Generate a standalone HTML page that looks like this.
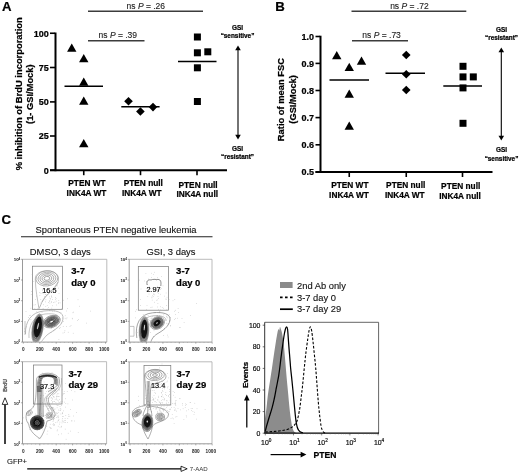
<!DOCTYPE html><html><head><meta charset="utf-8"><title>Figure</title>
<style>html,body{margin:0;padding:0;background:#fff}svg{display:block}text{font-family:"Liberation Sans",Arial,sans-serif}</style></head><body>
<svg width="520" height="474" viewBox="0 0 520 474">
<rect width="520" height="474" fill="#fff"/>
<text x="2" y="11" font-size="13.2" font-weight="bold" text-anchor="start" fill="#000"  stroke="#000" stroke-width="0.22">A</text>
<line x1="88" y1="11.25" x2="203" y2="11.25" stroke="#3c3c3c" stroke-width="1.5" />
<text x="145.8" y="9.3" font-size="8.5" font-weight="normal" text-anchor="middle" fill="#222"  stroke="#222" stroke-width="0.12">ns <tspan font-style="italic">P</tspan> = .26</text>
<line x1="88" y1="40.75" x2="144.5" y2="40.75" stroke="#3c3c3c" stroke-width="1.5" />
<text x="117.8" y="38.4" font-size="8.5" font-weight="normal" text-anchor="middle" fill="#222"  stroke="#222" stroke-width="0.12">ns <tspan font-style="italic">P</tspan> = .39</text>
<line x1="55.5" y1="32.5" x2="55.5" y2="171.2" stroke="#000" stroke-width="2" />
<line x1="50" y1="170.25" x2="227" y2="170.25" stroke="#000" stroke-width="2" />
<line x1="50" y1="33.25" x2="55" y2="33.25" stroke="#000" stroke-width="1.6" />
<text x="48.8" y="36.55" font-size="9" font-weight="bold" text-anchor="end" fill="#000"  stroke="#000" stroke-width="0.22">100</text>
<line x1="50" y1="67.5" x2="55" y2="67.5" stroke="#000" stroke-width="1.6" />
<text x="48.8" y="70.8" font-size="9" font-weight="bold" text-anchor="end" fill="#000"  stroke="#000" stroke-width="0.22">75</text>
<line x1="50" y1="101.9" x2="55" y2="101.9" stroke="#000" stroke-width="1.6" />
<text x="48.8" y="105.2" font-size="9" font-weight="bold" text-anchor="end" fill="#000"  stroke="#000" stroke-width="0.22">50</text>
<line x1="50" y1="136" x2="55" y2="136" stroke="#000" stroke-width="1.6" />
<text x="48.8" y="139.3" font-size="9" font-weight="bold" text-anchor="end" fill="#000"  stroke="#000" stroke-width="0.22">25</text>
<line x1="50" y1="170.25" x2="55" y2="170.25" stroke="#000" stroke-width="1.6" />
<text x="48.8" y="173.55" font-size="9" font-weight="bold" text-anchor="end" fill="#000"  stroke="#000" stroke-width="0.22">0</text>
<line x1="83.75" y1="170" x2="83.75" y2="175.2" stroke="#000" stroke-width="1.6" />
<line x1="140.5" y1="170" x2="140.5" y2="175.2" stroke="#000" stroke-width="1.6" />
<line x1="197" y1="170" x2="197" y2="175.2" stroke="#000" stroke-width="1.6" />
<text stroke="#000" stroke-width="0.22" transform="translate(22.4,93.8) rotate(-90)" font-size="9.4" font-weight="bold" text-anchor="middle" fill="#000">% inhibition of BrdU incorporation</text>
<text stroke="#000" stroke-width="0.22" transform="translate(33.2,94.2) rotate(-90)" font-size="9.3" font-weight="bold" text-anchor="middle" fill="#000">(1- GSI/Mock)</text>
<text x="87.0" y="186" font-size="8.3" font-weight="bold" text-anchor="middle" fill="#000"  stroke="#000" stroke-width="0.22">PTEN WT</text>
<text x="86.5" y="195.8" font-size="8.3" font-weight="bold" text-anchor="middle" fill="#000"  stroke="#000" stroke-width="0.22">INK4A WT</text>
<text x="143.3" y="186.1" font-size="8.3" font-weight="bold" text-anchor="middle" fill="#000"  stroke="#000" stroke-width="0.22">PTEN null</text>
<text x="141.8" y="195.8" font-size="8.3" font-weight="bold" text-anchor="middle" fill="#000"  stroke="#000" stroke-width="0.22">INK4A WT</text>
<text x="198.1" y="187.6" font-size="8.3" font-weight="bold" text-anchor="middle" fill="#000"  stroke="#000" stroke-width="0.22">PTEN null</text>
<text x="197.2" y="197.1" font-size="8.3" font-weight="bold" text-anchor="middle" fill="#000"  stroke="#000" stroke-width="0.22">INK4A null</text>
<polygon points="71.75,43.5 67.05,51.7 76.45,51.7" fill="#000"/>
<polygon points="83.75,54.0 79.05,62.2 88.45,62.2" fill="#000"/>
<polygon points="83.75,77.5 79.05,85.7 88.45,85.7" fill="#000"/>
<polygon points="83.75,96.5 79.05,104.7 88.45,104.7" fill="#000"/>
<polygon points="83.75,139.0 79.05,147.2 88.45,147.2" fill="#000"/>
<line x1="64.5" y1="86.25" x2="103" y2="86.25" stroke="#000" stroke-width="1.55" />
<polygon points="128.5,97.0 132.8,101.3 128.5,105.6 124.2,101.3" fill="#000"/>
<polygon points="140.4,107.2 144.70000000000002,111.5 140.4,115.8 136.1,111.5" fill="#000"/>
<polygon points="153,102.8 157.3,107.1 153,111.39999999999999 148.7,107.1" fill="#000"/>
<line x1="121.3" y1="106.8" x2="159.6" y2="106.8" stroke="#000" stroke-width="1.55" />
<rect x="193.9" y="33.5" width="7" height="7" fill="#000"/>
<rect x="193.9" y="49.3" width="7" height="7" fill="#000"/>
<rect x="204.3" y="48.3" width="7" height="7" fill="#000"/>
<rect x="193.9" y="64.3" width="7" height="7" fill="#000"/>
<rect x="193.9" y="98" width="7" height="7" fill="#000"/>
<line x1="178" y1="61.5" x2="216.5" y2="61.5" stroke="#000" stroke-width="1.55" />
<text x="237.5" y="30" font-size="6.4" font-weight="bold" text-anchor="middle" fill="#000"  stroke="#000" stroke-width="0.22">GSI</text>
<text x="237.5" y="38.3" font-size="6.4" font-weight="bold" text-anchor="middle" fill="#000"  stroke="#000" stroke-width="0.22">“sensitive”</text>
<line x1="238" y1="48" x2="238" y2="137" stroke="#000" stroke-width="1.1" />
<polygon points="238,45.5 235.2,50.2 240.8,50.2" fill="#000"/>
<polygon points="238,139.5 235.2,134.8 240.8,134.8" fill="#000"/>
<text x="237.5" y="150.6" font-size="6.4" font-weight="bold" text-anchor="middle" fill="#000"  stroke="#000" stroke-width="0.22">GSI</text>
<text x="237.5" y="159" font-size="6.4" font-weight="bold" text-anchor="middle" fill="#000"  stroke="#000" stroke-width="0.22">“resistant”</text>
<text x="275.3" y="11" font-size="13.2" font-weight="bold" text-anchor="start" fill="#000"  stroke="#000" stroke-width="0.22">B</text>
<line x1="351.5" y1="11.25" x2="466.3" y2="11.25" stroke="#3c3c3c" stroke-width="1.5" />
<text x="409.4" y="9.3" font-size="8.5" font-weight="normal" text-anchor="middle" fill="#222"  stroke="#222" stroke-width="0.12">ns <tspan font-style="italic">P</tspan> = .72</text>
<line x1="352" y1="40.75" x2="408" y2="40.75" stroke="#3c3c3c" stroke-width="1.5" />
<text x="381.6" y="38.4" font-size="8.5" font-weight="normal" text-anchor="middle" fill="#222"  stroke="#222" stroke-width="0.12">ns <tspan font-style="italic">P</tspan> = .73</text>
<line x1="320.5" y1="35.7" x2="320.5" y2="173" stroke="#000" stroke-width="2" />
<line x1="315.5" y1="172" x2="492.5" y2="172" stroke="#000" stroke-width="2" />
<line x1="315.5" y1="36.5" x2="320" y2="36.5" stroke="#000" stroke-width="1.6" />
<text x="314" y="39.8" font-size="9" font-weight="bold" text-anchor="end" fill="#000"  stroke="#000" stroke-width="0.22">1.0</text>
<line x1="315.5" y1="63.4" x2="320" y2="63.4" stroke="#000" stroke-width="1.6" />
<text x="314" y="66.7" font-size="9" font-weight="bold" text-anchor="end" fill="#000"  stroke="#000" stroke-width="0.22">0.9</text>
<line x1="315.5" y1="90.5" x2="320" y2="90.5" stroke="#000" stroke-width="1.6" />
<text x="314" y="93.8" font-size="9" font-weight="bold" text-anchor="end" fill="#000"  stroke="#000" stroke-width="0.22">0.8</text>
<line x1="315.5" y1="117.6" x2="320" y2="117.6" stroke="#000" stroke-width="1.6" />
<text x="314" y="120.89999999999999" font-size="9" font-weight="bold" text-anchor="end" fill="#000"  stroke="#000" stroke-width="0.22">0.7</text>
<line x1="315.5" y1="144.8" x2="320" y2="144.8" stroke="#000" stroke-width="1.6" />
<text x="314" y="148.10000000000002" font-size="9" font-weight="bold" text-anchor="end" fill="#000"  stroke="#000" stroke-width="0.22">0.6</text>
<line x1="315.5" y1="172" x2="320" y2="172" stroke="#000" stroke-width="1.6" />
<text x="314" y="175.3" font-size="9" font-weight="bold" text-anchor="end" fill="#000"  stroke="#000" stroke-width="0.22">0.5</text>
<line x1="349.25" y1="172" x2="349.25" y2="177" stroke="#000" stroke-width="1.6" />
<line x1="406.25" y1="172" x2="406.25" y2="177" stroke="#000" stroke-width="1.6" />
<line x1="462.5" y1="172" x2="462.5" y2="177" stroke="#000" stroke-width="1.6" />
<text stroke="#000" stroke-width="0.22" transform="translate(283.6,99.6) rotate(-90)" font-size="9.35" font-weight="bold" text-anchor="middle" fill="#000">Ratio of mean FSC</text>
<text stroke="#000" stroke-width="0.22" transform="translate(295.6,99.4) rotate(-90)" font-size="9.3" font-weight="bold" text-anchor="middle" fill="#000">(GSI/Mock)</text>
<text x="349.8" y="188" font-size="8.3" font-weight="bold" text-anchor="middle" fill="#000"  stroke="#000" stroke-width="0.22">PTEN WT</text>
<text x="349" y="197.7" font-size="8.3" font-weight="bold" text-anchor="middle" fill="#000"  stroke="#000" stroke-width="0.22">INK4A WT</text>
<text x="405.7" y="188" font-size="8.3" font-weight="bold" text-anchor="middle" fill="#000"  stroke="#000" stroke-width="0.22">PTEN null</text>
<text x="404.8" y="197.7" font-size="8.3" font-weight="bold" text-anchor="middle" fill="#000"  stroke="#000" stroke-width="0.22">INK4A WT</text>
<text x="460.7" y="189" font-size="8.3" font-weight="bold" text-anchor="middle" fill="#000"  stroke="#000" stroke-width="0.22">PTEN null</text>
<text x="460" y="198.8" font-size="8.3" font-weight="bold" text-anchor="middle" fill="#000"  stroke="#000" stroke-width="0.22">INK4A null</text>
<polygon points="336.75,51.0 332.05,59.2 341.45,59.2" fill="#000"/>
<polygon points="349.25,62.8 344.55,71.0 353.95,71.0" fill="#000"/>
<polygon points="361.5,56.5 356.8,64.7 366.2,64.7" fill="#000"/>
<polygon points="349.25,89.5 344.55,97.7 353.95,97.7" fill="#000"/>
<polygon points="349.25,121.5 344.55,129.7 353.95,129.7" fill="#000"/>
<line x1="329.5" y1="80" x2="369" y2="80" stroke="#000" stroke-width="1.55" />
<polygon points="406.25,50.7 410.55,55 406.25,59.3 401.95,55" fill="#000"/>
<polygon points="406.25,69.95 410.55,74.25 406.25,78.55 401.95,74.25" fill="#000"/>
<polygon points="406.25,85.7 410.55,90 406.25,94.3 401.95,90" fill="#000"/>
<line x1="385.5" y1="73.3" x2="425" y2="73.3" stroke="#000" stroke-width="1.55" />
<rect x="459.5" y="62.8" width="7" height="7" fill="#000"/>
<rect x="459.5" y="73.4" width="7" height="7" fill="#000"/>
<rect x="469.8" y="73.4" width="7" height="7" fill="#000"/>
<rect x="459.5" y="84.4" width="7" height="7" fill="#000"/>
<rect x="459.5" y="119.8" width="7" height="7" fill="#000"/>
<line x1="443.3" y1="86" x2="482" y2="86" stroke="#000" stroke-width="1.55" />
<text x="501.5" y="31.5" font-size="6.4" font-weight="bold" text-anchor="middle" fill="#000"  stroke="#000" stroke-width="0.22">GSI</text>
<text x="501.5" y="40" font-size="6.4" font-weight="bold" text-anchor="middle" fill="#000"  stroke="#000" stroke-width="0.22">“resistant”</text>
<line x1="501.3" y1="50" x2="501.3" y2="138" stroke="#000" stroke-width="1.1" />
<polygon points="501.3,47.5 498.5,52.2 504.1,52.2" fill="#000"/>
<polygon points="501.3,140.5 498.5,135.8 504.1,135.8" fill="#000"/>
<text x="501.5" y="152" font-size="6.4" font-weight="bold" text-anchor="middle" fill="#000"  stroke="#000" stroke-width="0.22">GSI</text>
<text x="501.5" y="160.7" font-size="6.4" font-weight="bold" text-anchor="middle" fill="#000"  stroke="#000" stroke-width="0.22">“sensitive”</text>
<text x="1.6" y="223.6" font-size="13.2" font-weight="bold" text-anchor="start" fill="#000"  stroke="#000" stroke-width="0.22">C</text>
<text x="116" y="233.3" font-size="9.4" font-weight="normal" text-anchor="middle" fill="#111"  stroke="#111" stroke-width="0.12">Spontaneous PTEN negative leukemia</text>
<line x1="21" y1="236.75" x2="212.5" y2="236.75" stroke="#222" stroke-width="1.1" />
<text x="60.3" y="254.6" font-size="9.4" font-weight="normal" text-anchor="middle" fill="#111"  stroke="#111" stroke-width="0.12">DMSO, 3 days</text>
<text x="171" y="254.6" font-size="9.4" font-weight="normal" text-anchor="middle" fill="#111"  stroke="#111" stroke-width="0.12">GSI, 3 days</text>
<defs><clipPath id="cp1"><rect x="22.5" y="259.3" width="84.3" height="82.5"/></clipPath><clipPath id="cp2"><rect x="129.2" y="259.3" width="82.8" height="82.5"/></clipPath></defs>
<path d="M22.5,259.3 L106.8,259.3 L106.8,342.1" fill="none" stroke="#aaa" stroke-width="0.8"/>
<path d="M22.5,259.3 L22.5,342.1 L106.8,342.1" fill="none" stroke="#888" stroke-width="0.85"/>
<text x="13.7" y="261.2" font-size="4.4" font-weight="bold" fill="#111">10<tspan dy="-1.7" font-size="3">4</tspan></text>
<line x1="21.0" y1="259.3" x2="22.5" y2="259.3" stroke="#666" stroke-width="0.5" />
<text x="13.7" y="281.9" font-size="4.4" font-weight="bold" fill="#111">10<tspan dy="-1.7" font-size="3">3</tspan></text>
<line x1="21.0" y1="280.0" x2="22.5" y2="280.0" stroke="#666" stroke-width="0.5" />
<text x="13.7" y="302.6" font-size="4.4" font-weight="bold" fill="#111">10<tspan dy="-1.7" font-size="3">2</tspan></text>
<line x1="21.0" y1="300.70000000000005" x2="22.5" y2="300.70000000000005" stroke="#666" stroke-width="0.5" />
<text x="13.7" y="323.3" font-size="4.4" font-weight="bold" fill="#111">10<tspan dy="-1.7" font-size="3">1</tspan></text>
<line x1="21.0" y1="321.40000000000003" x2="22.5" y2="321.40000000000003" stroke="#666" stroke-width="0.5" />
<text x="13.7" y="344.0" font-size="4.4" font-weight="bold" fill="#111">10<tspan dy="-1.7" font-size="3">0</tspan></text>
<line x1="21.0" y1="342.1" x2="22.5" y2="342.1" stroke="#666" stroke-width="0.5" />
<text x="23.3" y="350.8" font-size="4.7" font-weight="bold" text-anchor="middle" fill="#222">0</text>
<line x1="23.3" y1="342.1" x2="23.3" y2="343.70000000000005" stroke="#666" stroke-width="0.5" />
<text x="39.8" y="350.8" font-size="4.7" font-weight="bold" text-anchor="middle" fill="#222">200</text>
<line x1="39.8" y1="342.1" x2="39.8" y2="343.70000000000005" stroke="#666" stroke-width="0.5" />
<text x="56.2" y="350.8" font-size="4.7" font-weight="bold" text-anchor="middle" fill="#222">400</text>
<line x1="56.2" y1="342.1" x2="56.2" y2="343.70000000000005" stroke="#666" stroke-width="0.5" />
<text x="72.6" y="350.8" font-size="4.7" font-weight="bold" text-anchor="middle" fill="#222">600</text>
<line x1="72.6" y1="342.1" x2="72.6" y2="343.70000000000005" stroke="#666" stroke-width="0.5" />
<text x="89.1" y="350.8" font-size="4.7" font-weight="bold" text-anchor="middle" fill="#222">800</text>
<line x1="89.1" y1="342.1" x2="89.1" y2="343.70000000000005" stroke="#666" stroke-width="0.5" />
<text x="104.1" y="350.8" font-size="4.7" font-weight="bold" text-anchor="middle" fill="#222">1000</text>
<line x1="105.5" y1="342.1" x2="105.5" y2="343.70000000000005" stroke="#666" stroke-width="0.5" />
<line x1="27.4" y1="342.1" x2="27.4" y2="343.0" stroke="#888" stroke-width="0.35" />
<line x1="31.5" y1="342.1" x2="31.5" y2="343.0" stroke="#888" stroke-width="0.35" />
<line x1="35.6" y1="342.1" x2="35.6" y2="343.0" stroke="#888" stroke-width="0.35" />
<line x1="43.9" y1="342.1" x2="43.9" y2="343.0" stroke="#888" stroke-width="0.35" />
<line x1="48.0" y1="342.1" x2="48.0" y2="343.0" stroke="#888" stroke-width="0.35" />
<line x1="52.1" y1="342.1" x2="52.1" y2="343.0" stroke="#888" stroke-width="0.35" />
<line x1="60.3" y1="342.1" x2="60.3" y2="343.0" stroke="#888" stroke-width="0.35" />
<line x1="64.4" y1="342.1" x2="64.4" y2="343.0" stroke="#888" stroke-width="0.35" />
<line x1="68.5" y1="342.1" x2="68.5" y2="343.0" stroke="#888" stroke-width="0.35" />
<line x1="76.7" y1="342.1" x2="76.7" y2="343.0" stroke="#888" stroke-width="0.35" />
<line x1="80.8" y1="342.1" x2="80.8" y2="343.0" stroke="#888" stroke-width="0.35" />
<line x1="85.0" y1="342.1" x2="85.0" y2="343.0" stroke="#888" stroke-width="0.35" />
<line x1="93.2" y1="342.1" x2="93.2" y2="343.0" stroke="#888" stroke-width="0.35" />
<line x1="97.3" y1="342.1" x2="97.3" y2="343.0" stroke="#888" stroke-width="0.35" />
<line x1="101.4" y1="342.1" x2="101.4" y2="343.0" stroke="#888" stroke-width="0.35" />
<rect x="32.6" y="266.2" width="29.9" height="43.10000000000002" fill="none" stroke="#777" stroke-width="0.7"/>
<rect x="45.0" y="301.6" width="0.6" height="0.6" fill="#aaa"/>
<rect x="45.2" y="294.2" width="0.6" height="0.6" fill="#aaa"/>
<rect x="39.6" y="295.1" width="0.6" height="0.6" fill="#aaa"/>
<rect x="55.9" y="300.8" width="0.6" height="0.6" fill="#aaa"/>
<rect x="55.3" y="299.2" width="0.6" height="0.6" fill="#aaa"/>
<rect x="50.2" y="298.7" width="0.6" height="0.6" fill="#aaa"/>
<rect x="33.7" y="304.7" width="0.6" height="0.6" fill="#aaa"/>
<rect x="51.1" y="301.5" width="0.6" height="0.6" fill="#aaa"/>
<rect x="33.5" y="281.3" width="0.6" height="0.6" fill="#aaa"/>
<rect x="39.9" y="292.8" width="0.6" height="0.6" fill="#aaa"/>
<rect x="49.4" y="296.6" width="0.6" height="0.6" fill="#aaa"/>
<rect x="51.2" y="291.2" width="0.6" height="0.6" fill="#aaa"/>
<rect x="49.5" y="300.5" width="0.6" height="0.6" fill="#aaa"/>
<rect x="41.7" y="312.5" width="0.6" height="0.6" fill="#aaa"/>
<rect x="51.5" y="307.8" width="0.6" height="0.6" fill="#aaa"/>
<rect x="42.0" y="290.3" width="0.6" height="0.6" fill="#aaa"/>
<rect x="44.2" y="296.0" width="0.6" height="0.6" fill="#aaa"/>
<rect x="52.1" y="299.2" width="0.6" height="0.6" fill="#aaa"/>
<rect x="43.4" y="288.4" width="0.6" height="0.6" fill="#aaa"/>
<rect x="42.8" y="308.0" width="0.6" height="0.6" fill="#aaa"/>
<rect x="40.5" y="299.2" width="0.6" height="0.6" fill="#aaa"/>
<rect x="50.4" y="283.6" width="0.6" height="0.6" fill="#aaa"/>
<rect x="47.4" y="308.8" width="0.6" height="0.6" fill="#aaa"/>
<rect x="30.9" y="294.1" width="0.6" height="0.6" fill="#aaa"/>
<rect x="46.2" y="289.6" width="0.6" height="0.6" fill="#aaa"/>
<rect x="51.0" y="296.4" width="0.6" height="0.6" fill="#aaa"/>
<rect x="35.3" y="304.5" width="0.6" height="0.6" fill="#aaa"/>
<rect x="52.4" y="305.5" width="0.6" height="0.6" fill="#aaa"/>
<rect x="58.5" y="300.3" width="0.6" height="0.6" fill="#aaa"/>
<rect x="48.0" y="285.3" width="0.6" height="0.6" fill="#aaa"/>
<rect x="51.9" y="291.5" width="0.6" height="0.6" fill="#aaa"/>
<rect x="43.4" y="285.6" width="0.6" height="0.6" fill="#aaa"/>
<rect x="39.3" y="292.2" width="0.6" height="0.6" fill="#aaa"/>
<rect x="57.3" y="278.7" width="0.6" height="0.6" fill="#aaa"/>
<rect x="35.3" y="299.2" width="0.6" height="0.6" fill="#aaa"/>
<rect x="58.5" y="302.2" width="0.6" height="0.6" fill="#aaa"/>
<rect x="31.8" y="274.3" width="0.6" height="0.6" fill="#aaa"/>
<rect x="49.9" y="290.4" width="0.6" height="0.6" fill="#aaa"/>
<rect x="38.0" y="305.8" width="0.6" height="0.6" fill="#aaa"/>
<rect x="55.8" y="298.4" width="0.6" height="0.6" fill="#aaa"/>
<rect x="49.0" y="300.9" width="0.6" height="0.6" fill="#aaa"/>
<rect x="59.8" y="302.6" width="0.6" height="0.6" fill="#aaa"/>
<rect x="51.1" y="301.9" width="0.6" height="0.6" fill="#aaa"/>
<rect x="34.5" y="308.5" width="0.6" height="0.6" fill="#aaa"/>
<rect x="54.6" y="301.8" width="0.6" height="0.6" fill="#aaa"/>
<rect x="31.2" y="291.3" width="0.6" height="0.6" fill="#aaa"/>
<rect x="53.7" y="280.7" width="0.6" height="0.6" fill="#aaa"/>
<rect x="45.5" y="306.2" width="0.6" height="0.6" fill="#aaa"/>
<rect x="36.5" y="311.5" width="0.6" height="0.6" fill="#aaa"/>
<rect x="51.4" y="295.6" width="0.6" height="0.6" fill="#aaa"/>
<rect x="49.6" y="302.8" width="0.6" height="0.6" fill="#aaa"/>
<rect x="48.0" y="307.3" width="0.6" height="0.6" fill="#aaa"/>
<rect x="41.7" y="293.3" width="0.6" height="0.6" fill="#aaa"/>
<rect x="55.3" y="297.2" width="0.6" height="0.6" fill="#aaa"/>
<rect x="40.0" y="305.5" width="0.6" height="0.6" fill="#aaa"/>
<rect x="58.7" y="293.0" width="0.6" height="0.6" fill="#aaa"/>
<rect x="36.0" y="295.8" width="0.6" height="0.6" fill="#aaa"/>
<rect x="45.8" y="294.3" width="0.6" height="0.6" fill="#aaa"/>
<rect x="58.2" y="287.8" width="0.6" height="0.6" fill="#aaa"/>
<rect x="57.1" y="285.6" width="0.6" height="0.6" fill="#aaa"/>
<rect x="40.7" y="302.7" width="0.6" height="0.6" fill="#aaa"/>
<rect x="56.0" y="304.7" width="0.6" height="0.6" fill="#aaa"/>
<rect x="49.8" y="298.3" width="0.6" height="0.6" fill="#aaa"/>
<rect x="48.2" y="302.2" width="0.6" height="0.6" fill="#aaa"/>
<rect x="45.6" y="299.5" width="0.6" height="0.6" fill="#aaa"/>
<rect x="51.6" y="297.0" width="0.6" height="0.6" fill="#aaa"/>
<rect x="53.1" y="302.1" width="0.6" height="0.6" fill="#aaa"/>
<rect x="63.1" y="299.9" width="0.6" height="0.6" fill="#aaa"/>
<rect x="43.6" y="293.6" width="0.6" height="0.6" fill="#aaa"/>
<rect x="46.9" y="305.3" width="0.6" height="0.6" fill="#aaa"/>
<rect x="47.3" y="323.1" width="0.6" height="0.6" fill="#aaa"/>
<rect x="77.7" y="299.5" width="0.6" height="0.6" fill="#aaa"/>
<rect x="36.3" y="322.0" width="0.6" height="0.6" fill="#aaa"/>
<rect x="57.6" y="321.9" width="0.6" height="0.6" fill="#aaa"/>
<rect x="46.0" y="325.2" width="0.6" height="0.6" fill="#aaa"/>
<rect x="55.9" y="315.8" width="0.6" height="0.6" fill="#aaa"/>
<rect x="86.0" y="322.8" width="0.6" height="0.6" fill="#aaa"/>
<rect x="44.2" y="319.2" width="0.6" height="0.6" fill="#aaa"/>
<rect x="48.8" y="319.5" width="0.6" height="0.6" fill="#aaa"/>
<rect x="66.1" y="310.7" width="0.6" height="0.6" fill="#aaa"/>
<rect x="51.1" y="327.6" width="0.6" height="0.6" fill="#aaa"/>
<rect x="64.0" y="331.9" width="0.6" height="0.6" fill="#aaa"/>
<rect x="28.2" y="317.2" width="0.6" height="0.6" fill="#aaa"/>
<rect x="47.2" y="325.0" width="0.6" height="0.6" fill="#aaa"/>
<rect x="67.3" y="298.5" width="0.6" height="0.6" fill="#aaa"/>
<rect x="67.2" y="308.4" width="0.6" height="0.6" fill="#aaa"/>
<rect x="61.6" y="308.1" width="0.6" height="0.6" fill="#aaa"/>
<rect x="54.5" y="329.6" width="0.6" height="0.6" fill="#aaa"/>
<rect x="49.9" y="321.5" width="0.6" height="0.6" fill="#aaa"/>
<rect x="63.2" y="321.1" width="0.6" height="0.6" fill="#aaa"/>
<rect x="50.8" y="332.3" width="0.6" height="0.6" fill="#aaa"/>
<rect x="66.7" y="317.6" width="0.6" height="0.6" fill="#aaa"/>
<rect x="90.4" y="310.8" width="0.6" height="0.6" fill="#aaa"/>
<rect x="64.8" y="317.9" width="0.6" height="0.6" fill="#aaa"/>
<rect x="53.9" y="325.6" width="0.6" height="0.6" fill="#aaa"/>
<rect x="55.1" y="325.1" width="0.6" height="0.6" fill="#aaa"/>
<rect x="30.6" y="307.9" width="0.6" height="0.6" fill="#aaa"/>
<rect x="60.6" y="312.3" width="0.6" height="0.6" fill="#aaa"/>
<rect x="37.6" y="308.2" width="0.6" height="0.6" fill="#aaa"/>
<rect x="69.7" y="326.0" width="0.6" height="0.6" fill="#aaa"/>
<rect x="72.6" y="312.5" width="0.6" height="0.6" fill="#aaa"/>
<rect x="52.0" y="310.9" width="0.6" height="0.6" fill="#aaa"/>
<rect x="62.7" y="332.7" width="0.6" height="0.6" fill="#aaa"/>
<rect x="39.5" y="332.5" width="0.6" height="0.6" fill="#aaa"/>
<rect x="65.8" y="318.6" width="0.6" height="0.6" fill="#aaa"/>
<rect x="24.4" y="331.3" width="0.6" height="0.6" fill="#aaa"/>
<rect x="50.7" y="315.2" width="0.6" height="0.6" fill="#aaa"/>
<rect x="57.6" y="323.3" width="0.6" height="0.6" fill="#aaa"/>
<rect x="73.0" y="311.8" width="0.6" height="0.6" fill="#aaa"/>
<rect x="67.9" y="331.9" width="0.6" height="0.6" fill="#aaa"/>
<rect x="72.3" y="318.6" width="0.6" height="0.6" fill="#aaa"/>
<rect x="41.6" y="328.1" width="0.6" height="0.6" fill="#aaa"/>
<rect x="53.6" y="321.0" width="0.6" height="0.6" fill="#aaa"/>
<rect x="71.9" y="317.9" width="0.6" height="0.6" fill="#aaa"/>
<rect x="26.0" y="326.6" width="0.6" height="0.6" fill="#aaa"/>
<rect x="56.4" y="315.1" width="0.6" height="0.6" fill="#aaa"/>
<rect x="51.9" y="326.7" width="0.6" height="0.6" fill="#aaa"/>
<rect x="53.1" y="330.6" width="0.6" height="0.6" fill="#aaa"/>
<rect x="51.1" y="328.3" width="0.6" height="0.6" fill="#aaa"/>
<rect x="72.9" y="332.9" width="0.6" height="0.6" fill="#aaa"/>
<rect x="42.6" y="327.0" width="0.6" height="0.6" fill="#aaa"/>
<rect x="25.7" y="311.3" width="0.6" height="0.6" fill="#aaa"/>
<rect x="24.5" y="328.6" width="0.6" height="0.6" fill="#aaa"/>
<rect x="34.8" y="319.9" width="0.6" height="0.6" fill="#aaa"/>
<rect x="49.3" y="319.8" width="0.6" height="0.6" fill="#aaa"/>
<rect x="43.7" y="321.9" width="0.6" height="0.6" fill="#aaa"/>
<rect x="77.1" y="320.4" width="0.6" height="0.6" fill="#aaa"/>
<rect x="59.4" y="328.0" width="0.6" height="0.6" fill="#aaa"/>
<rect x="49.2" y="309.9" width="0.6" height="0.6" fill="#aaa"/>
<rect x="44.2" y="328.6" width="0.6" height="0.6" fill="#aaa"/>
<rect x="29.0" y="315.2" width="0.6" height="0.6" fill="#aaa"/>
<rect x="66.1" y="326.3" width="0.6" height="0.6" fill="#aaa"/>
<rect x="52.1" y="326.4" width="0.6" height="0.6" fill="#aaa"/>
<rect x="54.3" y="310.6" width="0.6" height="0.6" fill="#aaa"/>
<rect x="30.1" y="314.9" width="0.6" height="0.6" fill="#aaa"/>
<rect x="64.9" y="315.5" width="0.6" height="0.6" fill="#aaa"/>
<rect x="39.4" y="313.8" width="0.6" height="0.6" fill="#aaa"/>
<rect x="30.6" y="319.1" width="0.6" height="0.6" fill="#aaa"/>
<rect x="35.5" y="322.9" width="0.6" height="0.6" fill="#aaa"/>
<rect x="43.0" y="304.5" width="0.6" height="0.6" fill="#aaa"/>
<rect x="62.1" y="317.8" width="0.6" height="0.6" fill="#aaa"/>
<rect x="56.1" y="316.3" width="0.6" height="0.6" fill="#aaa"/>
<rect x="62.9" y="326.0" width="0.6" height="0.6" fill="#aaa"/>
<rect x="61.3" y="322.6" width="0.6" height="0.6" fill="#aaa"/>
<rect x="70.7" y="325.3" width="0.6" height="0.6" fill="#aaa"/>
<rect x="58.3" y="303.3" width="0.6" height="0.6" fill="#aaa"/>
<rect x="64.6" y="330.5" width="0.6" height="0.6" fill="#aaa"/>
<rect x="47.8" y="316.2" width="0.6" height="0.6" fill="#aaa"/>
<rect x="79.2" y="305.9" width="0.6" height="0.6" fill="#aaa"/>
<rect x="58.6" y="339.4" width="0.6" height="0.6" fill="#aaa"/>
<rect x="39.0" y="325.5" width="0.6" height="0.6" fill="#aaa"/>
<rect x="78.4" y="319.0" width="0.6" height="0.6" fill="#aaa"/>
<rect x="59.9" y="327.2" width="0.6" height="0.6" fill="#aaa"/>
<rect x="39.3" y="319.3" width="0.6" height="0.6" fill="#aaa"/>
<rect x="56.1" y="326.6" width="0.6" height="0.6" fill="#aaa"/>
<rect x="51.5" y="318.4" width="0.6" height="0.6" fill="#aaa"/>
<path d="M35.3,279 C35,268 58.6,268 58.6,279 C58.6,288 48,292 43,300 C41,304 40,307 39,308.6 C37.6,300 35.5,290 35.3,279Z" fill="none" stroke="#909090" stroke-width="0.55"/>
<path d="M58,282 C54,290 46,294 42,302" fill="none" stroke="#999999" stroke-width="0.55"/>
<ellipse cx="46.9" cy="278.4" rx="11.0" ry="7.6" transform="rotate(-6 46.9 278.4)" fill="none" stroke="#888888" stroke-width="0.6" opacity="1"/>
<ellipse cx="46.9" cy="278.4" rx="8.96" ry="6.19" transform="rotate(-6 46.9 278.4)" fill="none" stroke="#828282" stroke-width="0.6" opacity="1"/>
<ellipse cx="46.9" cy="278.4" rx="6.93" ry="4.79" transform="rotate(-6 46.9 278.4)" fill="none" stroke="#7c7c7c" stroke-width="0.6" opacity="1"/>
<ellipse cx="46.9" cy="278.4" rx="4.9" ry="3.38" transform="rotate(-6 46.9 278.4)" fill="none" stroke="#767676" stroke-width="0.6" opacity="1"/>
<ellipse cx="46.9" cy="278.4" rx="2.86" ry="1.98" transform="rotate(-6 46.9 278.4)" fill="none" stroke="#707070" stroke-width="0.6" opacity="1"/>
<path d="M25.5,334 C25,322 31,312 44,311 C56,309.6 64,312 63,319 C62,327 52,331 47,335 C44,338 42,341 41.5,341.6" fill="none" stroke="#888888" stroke-width="0.55"/>
<path d="M29,338 C28,326 34,315 45,314 C55,313 60,315 60,320" fill="none" stroke="#999999" stroke-width="0.55"/>
<ellipse cx="51.6" cy="321.6" rx="7.6" ry="4.9" transform="rotate(-20 51.6 321.6)" fill="#808080" stroke="none" stroke-width="0" opacity="0.85"/>
<ellipse cx="51.6" cy="321.6" rx="8.8" ry="5.8" transform="rotate(-20 51.6 321.6)" fill="none" stroke="#707070" stroke-width="0.65" opacity="1"/>
<ellipse cx="51.6" cy="321.6" rx="7.43" ry="4.9" transform="rotate(-20 51.6 321.6)" fill="none" stroke="#616161" stroke-width="0.65" opacity="1"/>
<ellipse cx="51.6" cy="321.6" rx="6.05" ry="3.99" transform="rotate(-20 51.6 321.6)" fill="none" stroke="#535353" stroke-width="0.65" opacity="1"/>
<ellipse cx="51.6" cy="321.6" rx="4.68" ry="3.09" transform="rotate(-20 51.6 321.6)" fill="none" stroke="#444444" stroke-width="0.65" opacity="1"/>
<ellipse cx="51.6" cy="321.6" rx="3.31" ry="2.18" transform="rotate(-20 51.6 321.6)" fill="none" stroke="#363636" stroke-width="0.65" opacity="1"/>
<ellipse cx="51.6" cy="321.6" rx="1.94" ry="1.28" transform="rotate(-20 51.6 321.6)" fill="none" stroke="#282828" stroke-width="0.65" opacity="1"/>
<ellipse cx="51.6" cy="321.6" rx="1.6" ry="0.6" transform="rotate(-20 51.6 321.6)" fill="#ffffff" stroke="none" stroke-width="0" opacity="1"/>
<g clip-path="url(#cp1)">
<ellipse cx="37.6" cy="328.6" rx="5.2" ry="14.4" transform="rotate(9 37.6 328.6)" fill="#999999" stroke="none" stroke-width="0" opacity="0.8"/>
<ellipse cx="37.6" cy="328.6" rx="5.4" ry="14.8" transform="rotate(9 37.6 328.6)" fill="none" stroke="#777777" stroke-width="0.6" opacity="1"/>
<ellipse cx="37.6" cy="328.6" rx="4.86" ry="13.32" transform="rotate(9 37.6 328.6)" fill="none" stroke="#666666" stroke-width="0.6" opacity="1"/>
<ellipse cx="37.6" cy="328.6" rx="4.32" ry="11.84" transform="rotate(9 37.6 328.6)" fill="none" stroke="#555555" stroke-width="0.6" opacity="1"/>
<ellipse cx="37.6" cy="328.6" rx="3.78" ry="10.36" transform="rotate(9 37.6 328.6)" fill="none" stroke="#444444" stroke-width="0.6" opacity="1"/>
<ellipse cx="37.6" cy="328.6" rx="3.24" ry="8.88" transform="rotate(9 37.6 328.6)" fill="none" stroke="#333333" stroke-width="0.6" opacity="1"/>
<ellipse cx="37.9" cy="327" rx="3.6" ry="10.6" transform="rotate(9 37.9 327)" fill="#0c0c0c" stroke="none" stroke-width="0" opacity="0.96"/>
<ellipse cx="38" cy="326" rx="0.7" ry="3.4" transform="rotate(14 38 326)" fill="#bbbbbb" stroke="none" stroke-width="0" opacity="1"/>
</g>
<line x1="25" y1="321" x2="25" y2="335" stroke="#888" stroke-width="0.5" />
<text x="42.3" y="292.6" font-size="7.3" font-weight="normal" text-anchor="start" fill="#000" stroke="#000" stroke-width="0.15">16.5</text>
<text x="71.2" y="274" font-size="9.5" font-weight="bold" text-anchor="start" fill="#000"  stroke="#000" stroke-width="0.22">3-7</text>
<text x="71.2" y="285.5" font-size="9.5" font-weight="bold" text-anchor="start" fill="#000"  stroke="#000" stroke-width="0.22">day 0</text>
<path d="M129.2,259.3 L212,259.3 L212,342.1" fill="none" stroke="#aaa" stroke-width="0.8"/>
<path d="M129.2,259.3 L129.2,342.1 L212,342.1" fill="none" stroke="#888" stroke-width="0.85"/>
<text x="120.39999999999999" y="261.2" font-size="4.4" font-weight="bold" fill="#111">10<tspan dy="-1.7" font-size="3">4</tspan></text>
<line x1="127.69999999999999" y1="259.3" x2="129.2" y2="259.3" stroke="#666" stroke-width="0.5" />
<text x="120.39999999999999" y="281.9" font-size="4.4" font-weight="bold" fill="#111">10<tspan dy="-1.7" font-size="3">3</tspan></text>
<line x1="127.69999999999999" y1="280.0" x2="129.2" y2="280.0" stroke="#666" stroke-width="0.5" />
<text x="120.39999999999999" y="302.6" font-size="4.4" font-weight="bold" fill="#111">10<tspan dy="-1.7" font-size="3">2</tspan></text>
<line x1="127.69999999999999" y1="300.70000000000005" x2="129.2" y2="300.70000000000005" stroke="#666" stroke-width="0.5" />
<text x="120.39999999999999" y="323.3" font-size="4.4" font-weight="bold" fill="#111">10<tspan dy="-1.7" font-size="3">1</tspan></text>
<line x1="127.69999999999999" y1="321.40000000000003" x2="129.2" y2="321.40000000000003" stroke="#666" stroke-width="0.5" />
<text x="120.39999999999999" y="344.0" font-size="4.4" font-weight="bold" fill="#111">10<tspan dy="-1.7" font-size="3">0</tspan></text>
<line x1="127.69999999999999" y1="342.1" x2="129.2" y2="342.1" stroke="#666" stroke-width="0.5" />
<text x="130.0" y="350.8" font-size="4.7" font-weight="bold" text-anchor="middle" fill="#222">0</text>
<line x1="130.0" y1="342.1" x2="130.0" y2="343.70000000000005" stroke="#666" stroke-width="0.5" />
<text x="146.4" y="350.8" font-size="4.7" font-weight="bold" text-anchor="middle" fill="#222">200</text>
<line x1="146.4" y1="342.1" x2="146.4" y2="343.70000000000005" stroke="#666" stroke-width="0.5" />
<text x="162.9" y="350.8" font-size="4.7" font-weight="bold" text-anchor="middle" fill="#222">400</text>
<line x1="162.9" y1="342.1" x2="162.9" y2="343.70000000000005" stroke="#666" stroke-width="0.5" />
<text x="179.3" y="350.8" font-size="4.7" font-weight="bold" text-anchor="middle" fill="#222">600</text>
<line x1="179.3" y1="342.1" x2="179.3" y2="343.70000000000005" stroke="#666" stroke-width="0.5" />
<text x="195.8" y="350.8" font-size="4.7" font-weight="bold" text-anchor="middle" fill="#222">800</text>
<line x1="195.8" y1="342.1" x2="195.8" y2="343.70000000000005" stroke="#666" stroke-width="0.5" />
<text x="210.8" y="350.8" font-size="4.7" font-weight="bold" text-anchor="middle" fill="#222">1000</text>
<line x1="212.2" y1="342.1" x2="212.2" y2="343.70000000000005" stroke="#666" stroke-width="0.5" />
<line x1="134.1" y1="342.1" x2="134.1" y2="343.0" stroke="#888" stroke-width="0.35" />
<line x1="138.2" y1="342.1" x2="138.2" y2="343.0" stroke="#888" stroke-width="0.35" />
<line x1="142.3" y1="342.1" x2="142.3" y2="343.0" stroke="#888" stroke-width="0.35" />
<line x1="150.6" y1="342.1" x2="150.6" y2="343.0" stroke="#888" stroke-width="0.35" />
<line x1="154.7" y1="342.1" x2="154.7" y2="343.0" stroke="#888" stroke-width="0.35" />
<line x1="158.8" y1="342.1" x2="158.8" y2="343.0" stroke="#888" stroke-width="0.35" />
<line x1="167.0" y1="342.1" x2="167.0" y2="343.0" stroke="#888" stroke-width="0.35" />
<line x1="171.1" y1="342.1" x2="171.1" y2="343.0" stroke="#888" stroke-width="0.35" />
<line x1="175.2" y1="342.1" x2="175.2" y2="343.0" stroke="#888" stroke-width="0.35" />
<line x1="183.4" y1="342.1" x2="183.4" y2="343.0" stroke="#888" stroke-width="0.35" />
<line x1="187.5" y1="342.1" x2="187.5" y2="343.0" stroke="#888" stroke-width="0.35" />
<line x1="191.7" y1="342.1" x2="191.7" y2="343.0" stroke="#888" stroke-width="0.35" />
<line x1="199.9" y1="342.1" x2="199.9" y2="343.0" stroke="#888" stroke-width="0.35" />
<line x1="204.0" y1="342.1" x2="204.0" y2="343.0" stroke="#888" stroke-width="0.35" />
<line x1="208.1" y1="342.1" x2="208.1" y2="343.0" stroke="#888" stroke-width="0.35" />
<rect x="138.3" y="266.6" width="30.299999999999983" height="43.599999999999966" fill="none" stroke="#777" stroke-width="0.7"/>
<rect x="146.9" y="284.1" width="0.6" height="0.6" fill="#b4b4b4"/>
<rect x="160.2" y="289.1" width="0.6" height="0.6" fill="#b4b4b4"/>
<rect x="148.0" y="278.7" width="0.6" height="0.6" fill="#b4b4b4"/>
<rect x="172.7" y="300.5" width="0.6" height="0.6" fill="#b4b4b4"/>
<rect x="158.5" y="259.5" width="0.6" height="0.6" fill="#b4b4b4"/>
<rect x="158.4" y="293.3" width="0.6" height="0.6" fill="#b4b4b4"/>
<rect x="165.8" y="292.7" width="0.6" height="0.6" fill="#b4b4b4"/>
<rect x="153.5" y="293.7" width="0.6" height="0.6" fill="#b4b4b4"/>
<rect x="140.4" y="299.4" width="0.6" height="0.6" fill="#b4b4b4"/>
<rect x="156.3" y="280.3" width="0.6" height="0.6" fill="#b4b4b4"/>
<rect x="163.3" y="307.9" width="0.6" height="0.6" fill="#b4b4b4"/>
<rect x="144.2" y="280.7" width="0.6" height="0.6" fill="#b4b4b4"/>
<rect x="156.0" y="290.0" width="0.6" height="0.6" fill="#b4b4b4"/>
<rect x="151.2" y="277.3" width="0.6" height="0.6" fill="#b4b4b4"/>
<rect x="168.8" y="299.4" width="0.6" height="0.6" fill="#b4b4b4"/>
<rect x="145.6" y="273.2" width="0.6" height="0.6" fill="#b4b4b4"/>
<rect x="165.9" y="298.9" width="0.6" height="0.6" fill="#b4b4b4"/>
<rect x="166.7" y="296.9" width="0.6" height="0.6" fill="#b4b4b4"/>
<rect x="147.9" y="290.9" width="0.6" height="0.6" fill="#b4b4b4"/>
<rect x="138.9" y="279.8" width="0.6" height="0.6" fill="#b4b4b4"/>
<rect x="153.6" y="293.8" width="0.6" height="0.6" fill="#b4b4b4"/>
<rect x="148.9" y="286.6" width="0.6" height="0.6" fill="#b4b4b4"/>
<rect x="157.2" y="292.1" width="0.6" height="0.6" fill="#b4b4b4"/>
<rect x="158.5" y="290.3" width="0.6" height="0.6" fill="#b4b4b4"/>
<rect x="151.7" y="296.7" width="0.6" height="0.6" fill="#b4b4b4"/>
<rect x="154.3" y="278.9" width="0.6" height="0.6" fill="#b4b4b4"/>
<rect x="149.6" y="288.0" width="0.6" height="0.6" fill="#b4b4b4"/>
<rect x="153.2" y="289.7" width="0.6" height="0.6" fill="#b4b4b4"/>
<rect x="154.0" y="289.9" width="0.6" height="0.6" fill="#b4b4b4"/>
<rect x="153.1" y="274.2" width="0.6" height="0.6" fill="#b4b4b4"/>
<rect x="156.9" y="299.6" width="0.6" height="0.6" fill="#b4b4b4"/>
<rect x="157.0" y="285.9" width="0.6" height="0.6" fill="#b4b4b4"/>
<rect x="157.1" y="277.4" width="0.6" height="0.6" fill="#b4b4b4"/>
<rect x="140.7" y="288.7" width="0.6" height="0.6" fill="#b4b4b4"/>
<rect x="147.5" y="296.1" width="0.6" height="0.6" fill="#b4b4b4"/>
<rect x="146.7" y="305.4" width="0.6" height="0.6" fill="#b4b4b4"/>
<rect x="151.3" y="272.9" width="0.6" height="0.6" fill="#b4b4b4"/>
<rect x="148.7" y="293.7" width="0.6" height="0.6" fill="#b4b4b4"/>
<rect x="157.5" y="289.9" width="0.6" height="0.6" fill="#b4b4b4"/>
<rect x="164.4" y="295.8" width="0.6" height="0.6" fill="#b4b4b4"/>
<rect x="153.9" y="294.6" width="0.6" height="0.6" fill="#b4b4b4"/>
<rect x="165.6" y="298.7" width="0.6" height="0.6" fill="#b4b4b4"/>
<rect x="161.2" y="276.1" width="0.6" height="0.6" fill="#b4b4b4"/>
<rect x="153.0" y="296.0" width="0.6" height="0.6" fill="#b4b4b4"/>
<rect x="151.9" y="299.8" width="0.6" height="0.6" fill="#b4b4b4"/>
<rect x="158.2" y="298.0" width="0.6" height="0.6" fill="#b4b4b4"/>
<rect x="152.5" y="316.0" width="0.6" height="0.6" fill="#b4b4b4"/>
<rect x="162.7" y="285.6" width="0.6" height="0.6" fill="#b4b4b4"/>
<rect x="154.6" y="316.5" width="0.6" height="0.6" fill="#b4b4b4"/>
<rect x="151.6" y="297.6" width="0.6" height="0.6" fill="#b4b4b4"/>
<rect x="160.9" y="288.1" width="0.6" height="0.6" fill="#b4b4b4"/>
<rect x="145.8" y="290.1" width="0.6" height="0.6" fill="#b4b4b4"/>
<rect x="156.5" y="300.4" width="0.6" height="0.6" fill="#b4b4b4"/>
<rect x="159.5" y="288.3" width="0.6" height="0.6" fill="#b4b4b4"/>
<rect x="160.0" y="293.9" width="0.6" height="0.6" fill="#b4b4b4"/>
<rect x="155.4" y="288.6" width="0.6" height="0.6" fill="#b4b4b4"/>
<rect x="152.3" y="295.5" width="0.6" height="0.6" fill="#b4b4b4"/>
<rect x="146.6" y="281.1" width="0.6" height="0.6" fill="#b4b4b4"/>
<rect x="154.0" y="271.9" width="0.6" height="0.6" fill="#b4b4b4"/>
<rect x="154.3" y="301.9" width="0.6" height="0.6" fill="#aaa"/>
<rect x="151.1" y="322.5" width="0.6" height="0.6" fill="#aaa"/>
<rect x="167.4" y="317.6" width="0.6" height="0.6" fill="#aaa"/>
<rect x="157.0" y="306.7" width="0.6" height="0.6" fill="#aaa"/>
<rect x="183.8" y="322.1" width="0.6" height="0.6" fill="#aaa"/>
<rect x="174.2" y="310.9" width="0.6" height="0.6" fill="#aaa"/>
<rect x="157.6" y="303.4" width="0.6" height="0.6" fill="#aaa"/>
<rect x="170.1" y="325.5" width="0.6" height="0.6" fill="#aaa"/>
<rect x="135.3" y="317.6" width="0.6" height="0.6" fill="#aaa"/>
<rect x="168.2" y="303.9" width="0.6" height="0.6" fill="#aaa"/>
<rect x="136.3" y="309.5" width="0.6" height="0.6" fill="#aaa"/>
<rect x="151.8" y="306.8" width="0.6" height="0.6" fill="#aaa"/>
<rect x="160.4" y="320.0" width="0.6" height="0.6" fill="#aaa"/>
<rect x="168.2" y="323.6" width="0.6" height="0.6" fill="#aaa"/>
<rect x="179.5" y="327.3" width="0.6" height="0.6" fill="#aaa"/>
<rect x="142.9" y="314.0" width="0.6" height="0.6" fill="#aaa"/>
<rect x="146.2" y="309.4" width="0.6" height="0.6" fill="#aaa"/>
<rect x="158.9" y="318.0" width="0.6" height="0.6" fill="#aaa"/>
<rect x="166.4" y="305.3" width="0.6" height="0.6" fill="#aaa"/>
<rect x="143.9" y="317.8" width="0.6" height="0.6" fill="#aaa"/>
<rect x="157.4" y="315.5" width="0.6" height="0.6" fill="#aaa"/>
<rect x="159.2" y="311.9" width="0.6" height="0.6" fill="#aaa"/>
<rect x="169.1" y="320.8" width="0.6" height="0.6" fill="#aaa"/>
<rect x="158.9" y="312.6" width="0.6" height="0.6" fill="#aaa"/>
<rect x="157.7" y="296.2" width="0.6" height="0.6" fill="#aaa"/>
<rect x="147.2" y="318.3" width="0.6" height="0.6" fill="#aaa"/>
<rect x="140.4" y="319.6" width="0.6" height="0.6" fill="#aaa"/>
<rect x="161.9" y="307.0" width="0.6" height="0.6" fill="#aaa"/>
<rect x="156.7" y="315.5" width="0.6" height="0.6" fill="#aaa"/>
<rect x="166.0" y="322.9" width="0.6" height="0.6" fill="#aaa"/>
<rect x="159.5" y="311.2" width="0.6" height="0.6" fill="#aaa"/>
<rect x="158.1" y="317.5" width="0.6" height="0.6" fill="#aaa"/>
<rect x="169.5" y="320.4" width="0.6" height="0.6" fill="#aaa"/>
<rect x="150.6" y="307.2" width="0.6" height="0.6" fill="#aaa"/>
<rect x="155.1" y="312.1" width="0.6" height="0.6" fill="#aaa"/>
<rect x="145.5" y="317.1" width="0.6" height="0.6" fill="#aaa"/>
<rect x="153.6" y="318.8" width="0.6" height="0.6" fill="#aaa"/>
<rect x="166.8" y="314.7" width="0.6" height="0.6" fill="#aaa"/>
<rect x="190.2" y="315.4" width="0.6" height="0.6" fill="#aaa"/>
<rect x="174.3" y="319.0" width="0.6" height="0.6" fill="#aaa"/>
<rect x="174.5" y="299.0" width="0.6" height="0.6" fill="#aaa"/>
<rect x="150.2" y="320.0" width="0.6" height="0.6" fill="#aaa"/>
<rect x="167.8" y="336.7" width="0.6" height="0.6" fill="#aaa"/>
<rect x="164.2" y="328.2" width="0.6" height="0.6" fill="#aaa"/>
<rect x="170.0" y="325.6" width="0.6" height="0.6" fill="#aaa"/>
<rect x="166.6" y="316.8" width="0.6" height="0.6" fill="#aaa"/>
<rect x="166.6" y="309.4" width="0.6" height="0.6" fill="#aaa"/>
<rect x="175.4" y="309.9" width="0.6" height="0.6" fill="#aaa"/>
<rect x="163.2" y="335.0" width="0.6" height="0.6" fill="#aaa"/>
<rect x="157.1" y="318.2" width="0.6" height="0.6" fill="#aaa"/>
<rect x="175.1" y="318.2" width="0.6" height="0.6" fill="#aaa"/>
<rect x="149.5" y="320.1" width="0.6" height="0.6" fill="#aaa"/>
<rect x="167.6" y="323.7" width="0.6" height="0.6" fill="#aaa"/>
<rect x="150.0" y="332.0" width="0.6" height="0.6" fill="#aaa"/>
<rect x="181.7" y="318.1" width="0.6" height="0.6" fill="#aaa"/>
<rect x="163.5" y="314.6" width="0.6" height="0.6" fill="#aaa"/>
<rect x="178.4" y="312.4" width="0.6" height="0.6" fill="#aaa"/>
<rect x="168.8" y="314.2" width="0.6" height="0.6" fill="#aaa"/>
<rect x="151.0" y="323.7" width="0.6" height="0.6" fill="#aaa"/>
<rect x="177.3" y="317.9" width="0.6" height="0.6" fill="#aaa"/>
<rect x="151.2" y="324.5" width="0.6" height="0.6" fill="#aaa"/>
<rect x="159.4" y="320.5" width="0.6" height="0.6" fill="#aaa"/>
<rect x="179.8" y="327.1" width="0.6" height="0.6" fill="#aaa"/>
<rect x="153.2" y="336.3" width="0.6" height="0.6" fill="#aaa"/>
<rect x="160.0" y="324.3" width="0.6" height="0.6" fill="#aaa"/>
<rect x="151.6" y="317.6" width="0.6" height="0.6" fill="#aaa"/>
<rect x="137.3" y="332.3" width="0.6" height="0.6" fill="#aaa"/>
<rect x="177.8" y="308.3" width="0.6" height="0.6" fill="#aaa"/>
<rect x="140.4" y="305.0" width="0.6" height="0.6" fill="#aaa"/>
<rect x="175.3" y="314.3" width="0.6" height="0.6" fill="#aaa"/>
<rect x="159.2" y="315.5" width="0.6" height="0.6" fill="#aaa"/>
<rect x="158.4" y="309.3" width="0.6" height="0.6" fill="#aaa"/>
<rect x="160.3" y="306.5" width="0.6" height="0.6" fill="#aaa"/>
<rect x="159.1" y="320.5" width="0.6" height="0.6" fill="#aaa"/>
<rect x="166.1" y="316.1" width="0.6" height="0.6" fill="#aaa"/>
<rect x="148.3" y="319.3" width="0.6" height="0.6" fill="#aaa"/>
<rect x="153.7" y="330.5" width="0.6" height="0.6" fill="#aaa"/>
<rect x="170.0" y="317.1" width="0.6" height="0.6" fill="#aaa"/>
<rect x="153.9" y="312.4" width="0.6" height="0.6" fill="#aaa"/>
<rect x="147.8" y="315.2" width="0.6" height="0.6" fill="#aaa"/>
<rect x="163.8" y="322.1" width="0.6" height="0.6" fill="#aaa"/>
<rect x="167.4" y="334.8" width="0.6" height="0.6" fill="#aaa"/>
<rect x="150.8" y="318.1" width="0.6" height="0.6" fill="#aaa"/>
<rect x="196.3" y="303.1" width="0.6" height="0.6" fill="#aaa"/>
<rect x="153.2" y="319.4" width="0.6" height="0.6" fill="#aaa"/>
<rect x="162.0" y="321.3" width="0.6" height="0.6" fill="#aaa"/>
<rect x="156.9" y="320.9" width="0.6" height="0.6" fill="#aaa"/>
<rect x="160.7" y="324.2" width="0.6" height="0.6" fill="#aaa"/>
<rect x="135.4" y="310.9" width="0.6" height="0.6" fill="#aaa"/>
<rect x="160.0" y="309.7" width="0.6" height="0.6" fill="#aaa"/>
<path d="M147.2,285 C146,280.4 148.6,279.4 151,280 C153,278.8 156,279.8 158,279.4 C161,279.6 161.2,282 160.8,286" fill="none" stroke="#505050" stroke-width="0.65"/>
<path d="M136.8,338 C134.6,324 140,314 152.6,312.8 C163,311.6 171,314 170,320 C169,327 162,331 157,334 C153,336.6 151.6,339.6 151,341.6" fill="none" stroke="#666666" stroke-width="0.6"/>
<path d="M139.6,336 C138.4,325 143,317 153,315.8 C161,315 166.6,317 166,321" fill="none" stroke="#888888" stroke-width="0.55"/>
<ellipse cx="157.2" cy="323" rx="6.6" ry="5.4" transform="rotate(-30 157.2 323)" fill="#707070" stroke="none" stroke-width="0" opacity="0.85"/>
<ellipse cx="157.2" cy="323" rx="7.6" ry="6.0" transform="rotate(-30 157.2 323)" fill="none" stroke="#777777" stroke-width="0.6" opacity="1"/>
<ellipse cx="157.2" cy="323" rx="6.38" ry="5.04" transform="rotate(-30 157.2 323)" fill="none" stroke="#676767" stroke-width="0.6" opacity="1"/>
<ellipse cx="157.2" cy="323" rx="5.17" ry="4.08" transform="rotate(-30 157.2 323)" fill="none" stroke="#585858" stroke-width="0.6" opacity="1"/>
<ellipse cx="157.2" cy="323" rx="3.95" ry="3.12" transform="rotate(-30 157.2 323)" fill="none" stroke="#484848" stroke-width="0.6" opacity="1"/>
<ellipse cx="157.2" cy="323" rx="2.74" ry="2.16" transform="rotate(-30 157.2 323)" fill="none" stroke="#393939" stroke-width="0.6" opacity="1"/>
<ellipse cx="157.2" cy="323" rx="1.52" ry="1.2" transform="rotate(-30 157.2 323)" fill="none" stroke="#2a2a2a" stroke-width="0.6" opacity="1"/>
<ellipse cx="157" cy="323" rx="3.8" ry="2.5" transform="rotate(-40 157 323)" fill="#101010" stroke="none" stroke-width="0" opacity="1"/>
<ellipse cx="157" cy="323" rx="1.0" ry="0.5" transform="rotate(-40 157 323)" fill="#dddddd" stroke="none" stroke-width="0" opacity="1"/>
<g clip-path="url(#cp2)">
<ellipse cx="144" cy="330.6" rx="4.6" ry="13.6" transform="rotate(3 144 330.6)" fill="#999999" stroke="none" stroke-width="0" opacity="0.8"/>
<ellipse cx="144" cy="330.6" rx="4.8" ry="14.0" transform="rotate(3 144 330.6)" fill="none" stroke="#777777" stroke-width="0.6" opacity="1"/>
<ellipse cx="144" cy="330.6" rx="4.16" ry="12.13" transform="rotate(3 144 330.6)" fill="none" stroke="#626262" stroke-width="0.6" opacity="1"/>
<ellipse cx="144" cy="330.6" rx="3.52" ry="10.27" transform="rotate(3 144 330.6)" fill="none" stroke="#4e4e4e" stroke-width="0.6" opacity="1"/>
<ellipse cx="144" cy="330.6" rx="2.88" ry="8.4" transform="rotate(3 144 330.6)" fill="none" stroke="#3a3a3a" stroke-width="0.6" opacity="1"/>
<ellipse cx="144.2" cy="329" rx="3.1" ry="9.6" transform="rotate(3 144.2 329)" fill="#0c0c0c" stroke="none" stroke-width="0" opacity="0.96"/>
<ellipse cx="144.4" cy="327.4" rx="0.6" ry="3" transform="rotate(6 144.4 327.4)" fill="#cccccc" stroke="none" stroke-width="0" opacity="1"/>
</g>
<path d="M130,326.4 L134,326.4 L134,336.2 L130,336.2" fill="none" stroke="#888888" stroke-width="0.5"/>
<text x="146.4" y="292.3" font-size="7.3" font-weight="normal" text-anchor="start" fill="#000" stroke="#000" stroke-width="0.15">2.97</text>
<text x="176.1" y="274" font-size="9.5" font-weight="bold" text-anchor="start" fill="#000"  stroke="#000" stroke-width="0.22">3-7</text>
<text x="176.1" y="285.5" font-size="9.5" font-weight="bold" text-anchor="start" fill="#000"  stroke="#000" stroke-width="0.22">day 0</text>
<path d="M22.5,361.7 L106.6,361.7 L106.6,443.8" fill="none" stroke="#aaa" stroke-width="0.8"/>
<path d="M22.5,361.7 L22.5,443.8 L106.6,443.8" fill="none" stroke="#888" stroke-width="0.85"/>
<text x="13.7" y="363.6" font-size="4.4" font-weight="bold" fill="#111">10<tspan dy="-1.7" font-size="3">4</tspan></text>
<line x1="21.0" y1="361.7" x2="22.5" y2="361.7" stroke="#666" stroke-width="0.5" />
<text x="13.7" y="384.1" font-size="4.4" font-weight="bold" fill="#111">10<tspan dy="-1.7" font-size="3">3</tspan></text>
<line x1="21.0" y1="382.225" x2="22.5" y2="382.225" stroke="#666" stroke-width="0.5" />
<text x="13.7" y="404.6" font-size="4.4" font-weight="bold" fill="#111">10<tspan dy="-1.7" font-size="3">2</tspan></text>
<line x1="21.0" y1="402.75" x2="22.5" y2="402.75" stroke="#666" stroke-width="0.5" />
<text x="13.7" y="425.2" font-size="4.4" font-weight="bold" fill="#111">10<tspan dy="-1.7" font-size="3">1</tspan></text>
<line x1="21.0" y1="423.275" x2="22.5" y2="423.275" stroke="#666" stroke-width="0.5" />
<text x="13.7" y="445.7" font-size="4.4" font-weight="bold" fill="#111">10<tspan dy="-1.7" font-size="3">0</tspan></text>
<line x1="21.0" y1="443.8" x2="22.5" y2="443.8" stroke="#666" stroke-width="0.5" />
<text x="23.3" y="452.5" font-size="4.7" font-weight="bold" text-anchor="middle" fill="#222">0</text>
<line x1="23.3" y1="443.8" x2="23.3" y2="445.40000000000003" stroke="#666" stroke-width="0.5" />
<text x="39.8" y="452.5" font-size="4.7" font-weight="bold" text-anchor="middle" fill="#222">200</text>
<line x1="39.8" y1="443.8" x2="39.8" y2="445.40000000000003" stroke="#666" stroke-width="0.5" />
<text x="56.2" y="452.5" font-size="4.7" font-weight="bold" text-anchor="middle" fill="#222">400</text>
<line x1="56.2" y1="443.8" x2="56.2" y2="445.40000000000003" stroke="#666" stroke-width="0.5" />
<text x="72.6" y="452.5" font-size="4.7" font-weight="bold" text-anchor="middle" fill="#222">600</text>
<line x1="72.6" y1="443.8" x2="72.6" y2="445.40000000000003" stroke="#666" stroke-width="0.5" />
<text x="89.1" y="452.5" font-size="4.7" font-weight="bold" text-anchor="middle" fill="#222">800</text>
<line x1="89.1" y1="443.8" x2="89.1" y2="445.40000000000003" stroke="#666" stroke-width="0.5" />
<text x="104.1" y="452.5" font-size="4.7" font-weight="bold" text-anchor="middle" fill="#222">1000</text>
<line x1="105.5" y1="443.8" x2="105.5" y2="445.40000000000003" stroke="#666" stroke-width="0.5" />
<line x1="27.4" y1="443.8" x2="27.4" y2="444.7" stroke="#888" stroke-width="0.35" />
<line x1="31.5" y1="443.8" x2="31.5" y2="444.7" stroke="#888" stroke-width="0.35" />
<line x1="35.6" y1="443.8" x2="35.6" y2="444.7" stroke="#888" stroke-width="0.35" />
<line x1="43.9" y1="443.8" x2="43.9" y2="444.7" stroke="#888" stroke-width="0.35" />
<line x1="48.0" y1="443.8" x2="48.0" y2="444.7" stroke="#888" stroke-width="0.35" />
<line x1="52.1" y1="443.8" x2="52.1" y2="444.7" stroke="#888" stroke-width="0.35" />
<line x1="60.3" y1="443.8" x2="60.3" y2="444.7" stroke="#888" stroke-width="0.35" />
<line x1="64.4" y1="443.8" x2="64.4" y2="444.7" stroke="#888" stroke-width="0.35" />
<line x1="68.5" y1="443.8" x2="68.5" y2="444.7" stroke="#888" stroke-width="0.35" />
<line x1="76.7" y1="443.8" x2="76.7" y2="444.7" stroke="#888" stroke-width="0.35" />
<line x1="80.8" y1="443.8" x2="80.8" y2="444.7" stroke="#888" stroke-width="0.35" />
<line x1="85.0" y1="443.8" x2="85.0" y2="444.7" stroke="#888" stroke-width="0.35" />
<line x1="93.2" y1="443.8" x2="93.2" y2="444.7" stroke="#888" stroke-width="0.35" />
<line x1="97.3" y1="443.8" x2="97.3" y2="444.7" stroke="#888" stroke-width="0.35" />
<line x1="101.4" y1="443.8" x2="101.4" y2="444.7" stroke="#888" stroke-width="0.35" />
<rect x="33.4" y="365" width="28.6" height="39" fill="none" stroke="#777" stroke-width="0.7"/>
<rect x="43.6" y="405.5" width="0.6" height="0.6" fill="#aaa"/>
<rect x="46.8" y="405.6" width="0.6" height="0.6" fill="#aaa"/>
<rect x="58.0" y="401.7" width="0.6" height="0.6" fill="#aaa"/>
<rect x="56.1" y="396.7" width="0.6" height="0.6" fill="#aaa"/>
<rect x="40.7" y="397.6" width="0.6" height="0.6" fill="#aaa"/>
<rect x="55.6" y="391.6" width="0.6" height="0.6" fill="#aaa"/>
<rect x="51.2" y="407.0" width="0.6" height="0.6" fill="#aaa"/>
<rect x="45.0" y="405.7" width="0.6" height="0.6" fill="#aaa"/>
<rect x="66.9" y="391.3" width="0.6" height="0.6" fill="#aaa"/>
<rect x="53.2" y="396.2" width="0.6" height="0.6" fill="#aaa"/>
<rect x="64.3" y="401.8" width="0.6" height="0.6" fill="#aaa"/>
<rect x="59.2" y="389.7" width="0.6" height="0.6" fill="#aaa"/>
<rect x="51.9" y="397.9" width="0.6" height="0.6" fill="#aaa"/>
<rect x="37.8" y="415.3" width="0.6" height="0.6" fill="#aaa"/>
<rect x="59.2" y="377.0" width="0.6" height="0.6" fill="#aaa"/>
<rect x="58.0" y="396.4" width="0.6" height="0.6" fill="#aaa"/>
<rect x="55.6" y="402.4" width="0.6" height="0.6" fill="#aaa"/>
<rect x="40.0" y="395.5" width="0.6" height="0.6" fill="#aaa"/>
<rect x="63.9" y="391.1" width="0.6" height="0.6" fill="#aaa"/>
<rect x="43.8" y="381.7" width="0.6" height="0.6" fill="#aaa"/>
<rect x="42.2" y="402.0" width="0.6" height="0.6" fill="#aaa"/>
<rect x="65.5" y="403.2" width="0.6" height="0.6" fill="#aaa"/>
<rect x="54.0" y="424.8" width="0.6" height="0.6" fill="#aaa"/>
<rect x="47.8" y="389.9" width="0.6" height="0.6" fill="#aaa"/>
<rect x="56.2" y="404.6" width="0.6" height="0.6" fill="#aaa"/>
<rect x="43.9" y="384.0" width="0.6" height="0.6" fill="#aaa"/>
<rect x="54.3" y="401.0" width="0.6" height="0.6" fill="#aaa"/>
<rect x="41.5" y="395.6" width="0.6" height="0.6" fill="#aaa"/>
<rect x="47.7" y="403.5" width="0.6" height="0.6" fill="#aaa"/>
<rect x="51.1" y="397.0" width="0.6" height="0.6" fill="#aaa"/>
<rect x="49.2" y="410.6" width="0.6" height="0.6" fill="#aaa"/>
<rect x="63.1" y="393.6" width="0.6" height="0.6" fill="#aaa"/>
<rect x="58.8" y="388.9" width="0.6" height="0.6" fill="#aaa"/>
<rect x="52.6" y="407.0" width="0.6" height="0.6" fill="#aaa"/>
<rect x="64.1" y="393.4" width="0.6" height="0.6" fill="#aaa"/>
<rect x="51.4" y="400.4" width="0.6" height="0.6" fill="#aaa"/>
<rect x="40.0" y="398.2" width="0.6" height="0.6" fill="#aaa"/>
<rect x="46.6" y="402.5" width="0.6" height="0.6" fill="#aaa"/>
<rect x="43.0" y="374.3" width="0.6" height="0.6" fill="#aaa"/>
<rect x="52.3" y="401.1" width="0.6" height="0.6" fill="#aaa"/>
<rect x="47.6" y="408.7" width="0.6" height="0.6" fill="#aaa"/>
<rect x="49.8" y="390.7" width="0.6" height="0.6" fill="#aaa"/>
<rect x="55.8" y="379.2" width="0.6" height="0.6" fill="#aaa"/>
<rect x="46.6" y="397.8" width="0.6" height="0.6" fill="#aaa"/>
<rect x="58.8" y="396.0" width="0.6" height="0.6" fill="#aaa"/>
<rect x="54.5" y="390.1" width="0.6" height="0.6" fill="#aaa"/>
<rect x="54.4" y="418.0" width="0.6" height="0.6" fill="#aaa"/>
<rect x="46.5" y="426.4" width="0.6" height="0.6" fill="#aaa"/>
<rect x="46.8" y="398.2" width="0.6" height="0.6" fill="#aaa"/>
<rect x="53.4" y="410.3" width="0.6" height="0.6" fill="#aaa"/>
<rect x="42.1" y="372.8" width="0.6" height="0.6" fill="#aaa"/>
<rect x="56.8" y="407.5" width="0.6" height="0.6" fill="#aaa"/>
<rect x="57.0" y="429.6" width="0.6" height="0.6" fill="#aaa"/>
<rect x="53.6" y="401.0" width="0.6" height="0.6" fill="#aaa"/>
<rect x="59.4" y="402.4" width="0.6" height="0.6" fill="#aaa"/>
<rect x="65.3" y="383.1" width="0.6" height="0.6" fill="#aaa"/>
<rect x="58.5" y="393.5" width="0.6" height="0.6" fill="#aaa"/>
<rect x="59.4" y="423.8" width="0.6" height="0.6" fill="#aaa"/>
<rect x="52.0" y="394.9" width="0.6" height="0.6" fill="#aaa"/>
<rect x="48.0" y="387.9" width="0.6" height="0.6" fill="#aaa"/>
<rect x="47.0" y="405.7" width="0.6" height="0.6" fill="#aaa"/>
<rect x="52.3" y="398.8" width="0.6" height="0.6" fill="#aaa"/>
<rect x="50.6" y="409.0" width="0.6" height="0.6" fill="#aaa"/>
<rect x="56.0" y="396.3" width="0.6" height="0.6" fill="#aaa"/>
<rect x="57.3" y="396.2" width="0.6" height="0.6" fill="#aaa"/>
<rect x="42.8" y="415.5" width="0.6" height="0.6" fill="#aaa"/>
<rect x="55.7" y="386.5" width="0.6" height="0.6" fill="#aaa"/>
<rect x="60.6" y="402.1" width="0.6" height="0.6" fill="#aaa"/>
<rect x="39.5" y="417.3" width="0.6" height="0.6" fill="#aaa"/>
<rect x="54.7" y="408.7" width="0.6" height="0.6" fill="#aaa"/>
<rect x="53.6" y="396.2" width="0.6" height="0.6" fill="#aaa"/>
<rect x="39.6" y="409.7" width="0.6" height="0.6" fill="#aaa"/>
<rect x="52.2" y="394.6" width="0.6" height="0.6" fill="#aaa"/>
<rect x="54.8" y="398.9" width="0.6" height="0.6" fill="#aaa"/>
<rect x="57.4" y="393.5" width="0.6" height="0.6" fill="#aaa"/>
<rect x="51.7" y="372.3" width="0.6" height="0.6" fill="#aaa"/>
<rect x="48.6" y="406.1" width="0.6" height="0.6" fill="#aaa"/>
<rect x="62.7" y="393.6" width="0.6" height="0.6" fill="#aaa"/>
<rect x="51.0" y="417.0" width="0.6" height="0.6" fill="#aaa"/>
<rect x="49.4" y="406.8" width="0.6" height="0.6" fill="#aaa"/>
<rect x="65.4" y="398.5" width="0.6" height="0.6" fill="#aaa"/>
<rect x="61.8" y="389.5" width="0.6" height="0.6" fill="#aaa"/>
<rect x="53.7" y="397.1" width="0.6" height="0.6" fill="#aaa"/>
<rect x="52.9" y="411.6" width="0.6" height="0.6" fill="#aaa"/>
<rect x="71.1" y="390.0" width="0.6" height="0.6" fill="#aaa"/>
<rect x="47.4" y="404.0" width="0.6" height="0.6" fill="#aaa"/>
<rect x="43.6" y="404.0" width="0.6" height="0.6" fill="#aaa"/>
<rect x="56.6" y="394.7" width="0.6" height="0.6" fill="#aaa"/>
<rect x="56.2" y="379.4" width="0.6" height="0.6" fill="#aaa"/>
<rect x="58.1" y="379.5" width="0.6" height="0.6" fill="#aaa"/>
<rect x="46.4" y="391.3" width="0.6" height="0.6" fill="#aaa"/>
<rect x="48.8" y="408.3" width="0.6" height="0.6" fill="#aaa"/>
<rect x="52.7" y="393.2" width="0.6" height="0.6" fill="#aaa"/>
<rect x="56.3" y="417.0" width="0.6" height="0.6" fill="#aaa"/>
<rect x="52.0" y="402.4" width="0.6" height="0.6" fill="#aaa"/>
<rect x="61.9" y="401.2" width="0.6" height="0.6" fill="#aaa"/>
<rect x="41.7" y="427.9" width="0.6" height="0.6" fill="#aaa"/>
<rect x="69.7" y="374.2" width="0.6" height="0.6" fill="#aaa"/>
<rect x="51.7" y="403.0" width="0.6" height="0.6" fill="#aaa"/>
<rect x="59.7" y="406.0" width="0.6" height="0.6" fill="#aaa"/>
<rect x="49.8" y="385.4" width="0.6" height="0.6" fill="#aaa"/>
<rect x="52.8" y="410.4" width="0.6" height="0.6" fill="#aaa"/>
<rect x="43.3" y="385.7" width="0.6" height="0.6" fill="#aaa"/>
<rect x="51.8" y="374.8" width="0.6" height="0.6" fill="#aaa"/>
<rect x="49.9" y="392.8" width="0.6" height="0.6" fill="#aaa"/>
<rect x="55.6" y="389.6" width="0.6" height="0.6" fill="#aaa"/>
<rect x="44.9" y="393.3" width="0.6" height="0.6" fill="#aaa"/>
<rect x="51.6" y="390.0" width="0.6" height="0.6" fill="#aaa"/>
<rect x="52.1" y="407.0" width="0.6" height="0.6" fill="#aaa"/>
<rect x="61.0" y="433.6" width="0.6" height="0.6" fill="#aaa"/>
<rect x="39.4" y="416.6" width="0.6" height="0.6" fill="#aaa"/>
<rect x="40.0" y="419.7" width="0.6" height="0.6" fill="#aaa"/>
<rect x="53.7" y="409.1" width="0.6" height="0.6" fill="#aaa"/>
<rect x="53.1" y="419.8" width="0.6" height="0.6" fill="#aaa"/>
<rect x="27.9" y="422.3" width="0.6" height="0.6" fill="#aaa"/>
<rect x="61.1" y="405.1" width="0.6" height="0.6" fill="#aaa"/>
<rect x="56.9" y="421.7" width="0.6" height="0.6" fill="#aaa"/>
<rect x="53.2" y="423.5" width="0.6" height="0.6" fill="#aaa"/>
<rect x="62.3" y="418.2" width="0.6" height="0.6" fill="#aaa"/>
<rect x="57.6" y="416.7" width="0.6" height="0.6" fill="#aaa"/>
<rect x="56.0" y="413.5" width="0.6" height="0.6" fill="#aaa"/>
<rect x="46.8" y="433.8" width="0.6" height="0.6" fill="#aaa"/>
<rect x="52.9" y="418.7" width="0.6" height="0.6" fill="#aaa"/>
<rect x="35.4" y="413.7" width="0.6" height="0.6" fill="#aaa"/>
<rect x="50.1" y="427.5" width="0.6" height="0.6" fill="#aaa"/>
<rect x="52.7" y="424.2" width="0.6" height="0.6" fill="#aaa"/>
<rect x="47.5" y="430.8" width="0.6" height="0.6" fill="#aaa"/>
<rect x="43.7" y="415.6" width="0.6" height="0.6" fill="#aaa"/>
<rect x="57.8" y="420.5" width="0.6" height="0.6" fill="#aaa"/>
<rect x="44.9" y="415.4" width="0.6" height="0.6" fill="#aaa"/>
<rect x="45.2" y="425.0" width="0.6" height="0.6" fill="#aaa"/>
<rect x="51.9" y="410.3" width="0.6" height="0.6" fill="#aaa"/>
<rect x="52.7" y="421.4" width="0.6" height="0.6" fill="#aaa"/>
<rect x="37.0" y="426.2" width="0.6" height="0.6" fill="#aaa"/>
<rect x="44.9" y="417.3" width="0.6" height="0.6" fill="#aaa"/>
<rect x="56.8" y="430.6" width="0.6" height="0.6" fill="#aaa"/>
<rect x="40.4" y="423.5" width="0.6" height="0.6" fill="#aaa"/>
<rect x="38.4" y="438.5" width="0.6" height="0.6" fill="#aaa"/>
<rect x="42.6" y="429.6" width="0.6" height="0.6" fill="#aaa"/>
<rect x="40.9" y="426.5" width="0.6" height="0.6" fill="#aaa"/>
<rect x="72.4" y="399.7" width="0.6" height="0.6" fill="#aaa"/>
<rect x="43.2" y="424.0" width="0.6" height="0.6" fill="#aaa"/>
<rect x="47.0" y="414.7" width="0.6" height="0.6" fill="#aaa"/>
<rect x="71.7" y="420.6" width="0.6" height="0.6" fill="#aaa"/>
<rect x="29.9" y="426.8" width="0.6" height="0.6" fill="#aaa"/>
<rect x="29.1" y="429.2" width="0.6" height="0.6" fill="#aaa"/>
<rect x="41.6" y="421.2" width="0.6" height="0.6" fill="#aaa"/>
<rect x="61.9" y="420.9" width="0.6" height="0.6" fill="#aaa"/>
<rect x="32.7" y="406.4" width="0.6" height="0.6" fill="#aaa"/>
<rect x="61.0" y="425.9" width="0.6" height="0.6" fill="#aaa"/>
<rect x="39.0" y="426.9" width="0.6" height="0.6" fill="#aaa"/>
<rect x="53.5" y="425.2" width="0.6" height="0.6" fill="#aaa"/>
<rect x="23.2" y="417.6" width="0.6" height="0.6" fill="#aaa"/>
<rect x="57.9" y="425.9" width="0.6" height="0.6" fill="#aaa"/>
<rect x="57.7" y="400.3" width="0.6" height="0.6" fill="#aaa"/>
<rect x="49.9" y="423.9" width="0.6" height="0.6" fill="#aaa"/>
<rect x="76.1" y="412.4" width="0.6" height="0.6" fill="#aaa"/>
<rect x="44.4" y="420.3" width="0.6" height="0.6" fill="#aaa"/>
<rect x="57.7" y="416.5" width="0.6" height="0.6" fill="#aaa"/>
<rect x="60.6" y="413.7" width="0.6" height="0.6" fill="#aaa"/>
<rect x="50.9" y="415.8" width="0.6" height="0.6" fill="#aaa"/>
<rect x="49.7" y="414.5" width="0.6" height="0.6" fill="#aaa"/>
<rect x="30.4" y="428.7" width="0.6" height="0.6" fill="#aaa"/>
<rect x="51.3" y="415.5" width="0.6" height="0.6" fill="#aaa"/>
<rect x="50.2" y="427.9" width="0.6" height="0.6" fill="#aaa"/>
<rect x="37.2" y="419.1" width="0.6" height="0.6" fill="#aaa"/>
<rect x="53.9" y="424.2" width="0.6" height="0.6" fill="#aaa"/>
<rect x="44.3" y="403.1" width="0.6" height="0.6" fill="#aaa"/>
<rect x="61.7" y="422.6" width="0.6" height="0.6" fill="#aaa"/>
<rect x="48.1" y="417.8" width="0.6" height="0.6" fill="#aaa"/>
<rect x="50.9" y="416.6" width="0.6" height="0.6" fill="#aaa"/>
<rect x="36.7" y="414.1" width="0.6" height="0.6" fill="#aaa"/>
<rect x="41.4" y="415.1" width="0.6" height="0.6" fill="#aaa"/>
<rect x="35.3" y="425.1" width="0.6" height="0.6" fill="#aaa"/>
<rect x="33.6" y="425.3" width="0.6" height="0.6" fill="#aaa"/>
<rect x="36.8" y="422.8" width="0.6" height="0.6" fill="#aaa"/>
<rect x="63.1" y="421.6" width="0.6" height="0.6" fill="#aaa"/>
<rect x="40.0" y="420.4" width="0.6" height="0.6" fill="#aaa"/>
<rect x="59.2" y="399.4" width="0.6" height="0.6" fill="#aaa"/>
<rect x="53.1" y="416.5" width="0.6" height="0.6" fill="#aaa"/>
<rect x="54.2" y="415.7" width="0.6" height="0.6" fill="#aaa"/>
<rect x="63.9" y="421.9" width="0.6" height="0.6" fill="#aaa"/>
<rect x="65.2" y="420.3" width="0.6" height="0.6" fill="#aaa"/>
<rect x="55.7" y="414.8" width="0.6" height="0.6" fill="#aaa"/>
<rect x="55.8" y="412.2" width="0.6" height="0.6" fill="#aaa"/>
<rect x="56.6" y="399.5" width="0.6" height="0.6" fill="#aaa"/>
<rect x="55.3" y="414.8" width="0.6" height="0.6" fill="#aaa"/>
<rect x="50.2" y="414.8" width="0.6" height="0.6" fill="#aaa"/>
<rect x="62.1" y="413.5" width="0.6" height="0.6" fill="#aaa"/>
<rect x="74.6" y="391.5" width="0.6" height="0.6" fill="#aaa"/>
<rect x="56.3" y="398.6" width="0.6" height="0.6" fill="#aaa"/>
<rect x="65.8" y="438.9" width="0.6" height="0.6" fill="#aaa"/>
<rect x="38.0" y="416.2" width="0.6" height="0.6" fill="#aaa"/>
<rect x="62.2" y="412.3" width="0.6" height="0.6" fill="#aaa"/>
<rect x="62.4" y="394.8" width="0.6" height="0.6" fill="#aaa"/>
<rect x="64.8" y="418.3" width="0.6" height="0.6" fill="#aaa"/>
<rect x="58.2" y="409.7" width="0.6" height="0.6" fill="#aaa"/>
<rect x="63.1" y="410.6" width="0.6" height="0.6" fill="#aaa"/>
<rect x="59.8" y="410.4" width="0.6" height="0.6" fill="#aaa"/>
<rect x="40.0" y="414.7" width="0.6" height="0.6" fill="#aaa"/>
<rect x="59.6" y="421.8" width="0.6" height="0.6" fill="#aaa"/>
<rect x="51.0" y="414.7" width="0.6" height="0.6" fill="#aaa"/>
<rect x="62.9" y="416.3" width="0.6" height="0.6" fill="#aaa"/>
<rect x="67.9" y="432.9" width="0.6" height="0.6" fill="#aaa"/>
<rect x="50.7" y="397.7" width="0.6" height="0.6" fill="#aaa"/>
<rect x="64.9" y="428.8" width="0.6" height="0.6" fill="#aaa"/>
<rect x="65.4" y="422.3" width="0.6" height="0.6" fill="#aaa"/>
<rect x="53.1" y="408.6" width="0.6" height="0.6" fill="#aaa"/>
<rect x="65.1" y="406.8" width="0.6" height="0.6" fill="#aaa"/>
<rect x="43.5" y="406.0" width="0.6" height="0.6" fill="#aaa"/>
<rect x="77.9" y="432.3" width="0.6" height="0.6" fill="#aaa"/>
<rect x="52.5" y="408.4" width="0.6" height="0.6" fill="#aaa"/>
<rect x="59.9" y="408.3" width="0.6" height="0.6" fill="#aaa"/>
<rect x="68.5" y="414.3" width="0.6" height="0.6" fill="#aaa"/>
<rect x="49.3" y="426.8" width="0.6" height="0.6" fill="#aaa"/>
<rect x="53.3" y="417.0" width="0.6" height="0.6" fill="#aaa"/>
<rect x="57.9" y="412.2" width="0.6" height="0.6" fill="#aaa"/>
<rect x="60.6" y="408.8" width="0.6" height="0.6" fill="#aaa"/>
<rect x="43.2" y="395.1" width="0.6" height="0.6" fill="#aaa"/>
<rect x="47.9" y="408.2" width="0.6" height="0.6" fill="#aaa"/>
<rect x="57.8" y="415.5" width="0.6" height="0.6" fill="#aaa"/>
<rect x="62.4" y="416.1" width="0.6" height="0.6" fill="#aaa"/>
<rect x="51.7" y="408.6" width="0.6" height="0.6" fill="#aaa"/>
<rect x="41.0" y="413.5" width="0.6" height="0.6" fill="#aaa"/>
<rect x="61.9" y="419.8" width="0.6" height="0.6" fill="#aaa"/>
<rect x="57.0" y="413.4" width="0.6" height="0.6" fill="#aaa"/>
<rect x="65.5" y="415.1" width="0.6" height="0.6" fill="#aaa"/>
<rect x="63.9" y="420.2" width="0.6" height="0.6" fill="#aaa"/>
<rect x="59.7" y="426.8" width="0.6" height="0.6" fill="#aaa"/>
<rect x="53.4" y="411.8" width="0.6" height="0.6" fill="#aaa"/>
<rect x="51.5" y="407.8" width="0.6" height="0.6" fill="#aaa"/>
<rect x="70.4" y="430.8" width="0.6" height="0.6" fill="#aaa"/>
<rect x="58.2" y="420.1" width="0.6" height="0.6" fill="#aaa"/>
<rect x="67.4" y="422.3" width="0.6" height="0.6" fill="#aaa"/>
<rect x="67.6" y="403.6" width="0.6" height="0.6" fill="#aaa"/>
<rect x="52.9" y="419.1" width="0.6" height="0.6" fill="#aaa"/>
<rect x="69.5" y="415.9" width="0.6" height="0.6" fill="#aaa"/>
<rect x="51.1" y="411.8" width="0.6" height="0.6" fill="#aaa"/>
<rect x="52.7" y="407.3" width="0.6" height="0.6" fill="#aaa"/>
<rect x="70.0" y="409.4" width="0.6" height="0.6" fill="#aaa"/>
<rect x="58.2" y="434.5" width="0.6" height="0.6" fill="#aaa"/>
<rect x="67.5" y="418.0" width="0.6" height="0.6" fill="#aaa"/>
<rect x="53.1" y="418.7" width="0.6" height="0.6" fill="#aaa"/>
<rect x="71.0" y="420.6" width="0.6" height="0.6" fill="#aaa"/>
<rect x="68.1" y="415.9" width="0.6" height="0.6" fill="#aaa"/>
<rect x="62.1" y="413.2" width="0.6" height="0.6" fill="#aaa"/>
<rect x="61.4" y="426.7" width="0.6" height="0.6" fill="#aaa"/>
<rect x="46.6" y="414.4" width="0.6" height="0.6" fill="#aaa"/>
<rect x="59.9" y="409.9" width="0.6" height="0.6" fill="#aaa"/>
<rect x="55.5" y="422.1" width="0.6" height="0.6" fill="#aaa"/>
<rect x="74.0" y="420.7" width="0.6" height="0.6" fill="#aaa"/>
<rect x="60.6" y="401.0" width="0.6" height="0.6" fill="#aaa"/>
<rect x="73.4" y="415.7" width="0.6" height="0.6" fill="#aaa"/>
<rect x="57.7" y="404.9" width="0.6" height="0.6" fill="#aaa"/>
<rect x="57.5" y="405.1" width="0.6" height="0.6" fill="#aaa"/>
<rect x="58.6" y="419.2" width="0.6" height="0.6" fill="#aaa"/>
<rect x="58.2" y="417.5" width="0.6" height="0.6" fill="#aaa"/>
<rect x="51.2" y="427.9" width="0.6" height="0.6" fill="#aaa"/>
<path d="M36.4,381 C35.6,370.6 59.6,370.6 59.6,381 C59.8,389 53,392 50,396 C46,400 50,406 54,411 C57,416 53,420 47,421 C46,428 43,434 40,438.6 C36,436 30,432 28.6,424 C25,420 25,412 30,410 C34,408 36.4,404 36.4,381Z" fill="none" stroke="#777777" stroke-width="0.6"/>
<path d="M61.4,378 C62.6,386 58,391 53.4,394.6" fill="none" stroke="#999999" stroke-width="0.55"/>
<path d="M37.4,392 C37.0,380.0 37.2,374.6 47.6,374.4 C58.2,374.6 58.6,380.0 57.6,385.6" fill="none" stroke="#666666" stroke-width="0.6"/>
<path d="M38.3,392 C37.9,380.0 38.1,375.1 47.6,374.9 C57.3,375.1 57.7,380.0 56.7,385.2" fill="none" stroke="#505050" stroke-width="0.65"/>
<path d="M39.2,392 C38.8,380.0 39.0,375.6 47.6,375.4 C56.4,375.6 56.8,380.0 55.8,384.7" fill="none" stroke="#3c3c3c" stroke-width="0.7"/>
<path d="M40.1,392 C39.7,380.0 39.9,376.1 47.6,375.9 C55.5,376.1 55.9,380.0 54.9,384.2" fill="none" stroke="#2c2c2c" stroke-width="0.7"/>
<path d="M41.0,392 C40.6,380.0 40.8,376.6 47.6,376.4 C54.6,376.6 55.0,380.0 54.0,383.8" fill="none" stroke="#404040" stroke-width="0.6"/>
<path d="M38.6,377.4 C42,375 53,375 56.8,377.6" fill="none" stroke="#222222" stroke-width="1.3"/>
<path d="M57.4,385 C55,389 50,389.6 48,392" fill="none" stroke="#666666" stroke-width="0.55"/>
<line x1="37.50" y1="386" x2="38.20" y2="417" stroke="#3a3a3a" stroke-width="0.6" />
<line x1="38.80" y1="386" x2="39.50" y2="417" stroke="#303030" stroke-width="0.6" />
<line x1="40.10" y1="386" x2="40.80" y2="417" stroke="#444444" stroke-width="0.6" />
<line x1="41.40" y1="386" x2="42.10" y2="417" stroke="#606060" stroke-width="0.6" />
<line x1="42.70" y1="386" x2="43.40" y2="417" stroke="#777777" stroke-width="0.6" />
<path d="M57,388 C53,392 48,394 46.4,398 C46,403 50,407 52,411 C53.4,415 50,417.6 46,418.4" fill="none" stroke="#888888" stroke-width="0.55"/>
<path d="M55,389.6 C51,393 46,395 44.6,399 C44.4,404 47.6,408 49,411.6" fill="none" stroke="#999999" stroke-width="0.55"/>
<ellipse cx="29.4" cy="413" rx="3.2" ry="2.2" transform="rotate(-30 29.4 413)" fill="none" stroke="#888888" stroke-width="0.55" opacity="1"/>
<ellipse cx="29.4" cy="413" rx="1.6" ry="1.1" transform="rotate(-30 29.4 413)" fill="none" stroke="#777777" stroke-width="0.55" opacity="1"/>
<ellipse cx="49.6" cy="415.4" rx="3.6" ry="3.0" transform="rotate(0 49.6 415.4)" fill="none" stroke="#888888" stroke-width="0.55" opacity="1"/>
<ellipse cx="49.6" cy="415.4" rx="2.34" ry="1.95" transform="rotate(0 49.6 415.4)" fill="none" stroke="#777777" stroke-width="0.55" opacity="1"/>
<ellipse cx="49.6" cy="415.4" rx="1.08" ry="0.9" transform="rotate(0 49.6 415.4)" fill="none" stroke="#666666" stroke-width="0.55" opacity="1"/>
<ellipse cx="37.2" cy="422.8" rx="6.2" ry="6.4" transform="rotate(-20 37.2 422.8)" fill="#666666" stroke="none" stroke-width="0" opacity="0.85"/>
<ellipse cx="37.2" cy="422.8" rx="6.8" ry="7.0" transform="rotate(-20 37.2 422.8)" fill="none" stroke="#444444" stroke-width="0.95" opacity="1"/>
<ellipse cx="37.2" cy="422.8" rx="6.01" ry="6.19" transform="rotate(-20 37.2 422.8)" fill="none" stroke="#363636" stroke-width="0.95" opacity="1"/>
<ellipse cx="37.2" cy="422.8" rx="5.22" ry="5.38" transform="rotate(-20 37.2 422.8)" fill="none" stroke="#282828" stroke-width="0.95" opacity="1"/>
<ellipse cx="37.2" cy="422.8" rx="4.43" ry="4.56" transform="rotate(-20 37.2 422.8)" fill="none" stroke="#1b1b1b" stroke-width="0.95" opacity="1"/>
<ellipse cx="37.2" cy="422.8" rx="3.64" ry="3.75" transform="rotate(-20 37.2 422.8)" fill="none" stroke="#0d0d0d" stroke-width="0.95" opacity="1"/>
<ellipse cx="37.2" cy="422.8" rx="2.86" ry="2.94" transform="rotate(-20 37.2 422.8)" fill="none" stroke="#000000" stroke-width="0.95" opacity="1"/>
<ellipse cx="37.2" cy="422.8" rx="2.1" ry="2.5" transform="rotate(-20 37.2 422.8)" fill="#555555" stroke="none" stroke-width="0" opacity="1"/>
<ellipse cx="37.2" cy="422.8" rx="1.4" ry="1.7" transform="rotate(-20 37.2 422.8)" fill="none" stroke="#222222" stroke-width="0.5" opacity="1"/>
<text x="40" y="388.6" font-size="7.3" font-weight="normal" text-anchor="start" fill="#000" stroke="#000" stroke-width="0.15">37.3</text>
<text x="68.4" y="376.5" font-size="9.5" font-weight="bold" text-anchor="start" fill="#000"  stroke="#000" stroke-width="0.22">3-7</text>
<text x="68.4" y="387.9" font-size="9.5" font-weight="bold" text-anchor="start" fill="#000"  stroke="#000" stroke-width="0.22">day 29</text>
<path d="M129.2,361.8 L212,361.8 L212,443.8" fill="none" stroke="#aaa" stroke-width="0.8"/>
<path d="M129.2,361.8 L129.2,443.8 L212,443.8" fill="none" stroke="#888" stroke-width="0.85"/>
<text x="120.39999999999999" y="363.7" font-size="4.4" font-weight="bold" fill="#111">10<tspan dy="-1.7" font-size="3">4</tspan></text>
<line x1="127.69999999999999" y1="361.8" x2="129.2" y2="361.8" stroke="#666" stroke-width="0.5" />
<text x="120.39999999999999" y="384.2" font-size="4.4" font-weight="bold" fill="#111">10<tspan dy="-1.7" font-size="3">3</tspan></text>
<line x1="127.69999999999999" y1="382.3" x2="129.2" y2="382.3" stroke="#666" stroke-width="0.5" />
<text x="120.39999999999999" y="404.7" font-size="4.4" font-weight="bold" fill="#111">10<tspan dy="-1.7" font-size="3">2</tspan></text>
<line x1="127.69999999999999" y1="402.8" x2="129.2" y2="402.8" stroke="#666" stroke-width="0.5" />
<text x="120.39999999999999" y="425.2" font-size="4.4" font-weight="bold" fill="#111">10<tspan dy="-1.7" font-size="3">1</tspan></text>
<line x1="127.69999999999999" y1="423.3" x2="129.2" y2="423.3" stroke="#666" stroke-width="0.5" />
<text x="120.39999999999999" y="445.7" font-size="4.4" font-weight="bold" fill="#111">10<tspan dy="-1.7" font-size="3">0</tspan></text>
<line x1="127.69999999999999" y1="443.8" x2="129.2" y2="443.8" stroke="#666" stroke-width="0.5" />
<text x="130.0" y="452.5" font-size="4.7" font-weight="bold" text-anchor="middle" fill="#222">0</text>
<line x1="130.0" y1="443.8" x2="130.0" y2="445.40000000000003" stroke="#666" stroke-width="0.5" />
<text x="146.4" y="452.5" font-size="4.7" font-weight="bold" text-anchor="middle" fill="#222">200</text>
<line x1="146.4" y1="443.8" x2="146.4" y2="445.40000000000003" stroke="#666" stroke-width="0.5" />
<text x="162.9" y="452.5" font-size="4.7" font-weight="bold" text-anchor="middle" fill="#222">400</text>
<line x1="162.9" y1="443.8" x2="162.9" y2="445.40000000000003" stroke="#666" stroke-width="0.5" />
<text x="179.3" y="452.5" font-size="4.7" font-weight="bold" text-anchor="middle" fill="#222">600</text>
<line x1="179.3" y1="443.8" x2="179.3" y2="445.40000000000003" stroke="#666" stroke-width="0.5" />
<text x="195.8" y="452.5" font-size="4.7" font-weight="bold" text-anchor="middle" fill="#222">800</text>
<line x1="195.8" y1="443.8" x2="195.8" y2="445.40000000000003" stroke="#666" stroke-width="0.5" />
<text x="210.8" y="452.5" font-size="4.7" font-weight="bold" text-anchor="middle" fill="#222">1000</text>
<line x1="212.2" y1="443.8" x2="212.2" y2="445.40000000000003" stroke="#666" stroke-width="0.5" />
<line x1="134.1" y1="443.8" x2="134.1" y2="444.7" stroke="#888" stroke-width="0.35" />
<line x1="138.2" y1="443.8" x2="138.2" y2="444.7" stroke="#888" stroke-width="0.35" />
<line x1="142.3" y1="443.8" x2="142.3" y2="444.7" stroke="#888" stroke-width="0.35" />
<line x1="150.6" y1="443.8" x2="150.6" y2="444.7" stroke="#888" stroke-width="0.35" />
<line x1="154.7" y1="443.8" x2="154.7" y2="444.7" stroke="#888" stroke-width="0.35" />
<line x1="158.8" y1="443.8" x2="158.8" y2="444.7" stroke="#888" stroke-width="0.35" />
<line x1="167.0" y1="443.8" x2="167.0" y2="444.7" stroke="#888" stroke-width="0.35" />
<line x1="171.1" y1="443.8" x2="171.1" y2="444.7" stroke="#888" stroke-width="0.35" />
<line x1="175.2" y1="443.8" x2="175.2" y2="444.7" stroke="#888" stroke-width="0.35" />
<line x1="183.4" y1="443.8" x2="183.4" y2="444.7" stroke="#888" stroke-width="0.35" />
<line x1="187.5" y1="443.8" x2="187.5" y2="444.7" stroke="#888" stroke-width="0.35" />
<line x1="191.7" y1="443.8" x2="191.7" y2="444.7" stroke="#888" stroke-width="0.35" />
<line x1="199.9" y1="443.8" x2="199.9" y2="444.7" stroke="#888" stroke-width="0.35" />
<line x1="204.0" y1="443.8" x2="204.0" y2="444.7" stroke="#888" stroke-width="0.35" />
<line x1="208.1" y1="443.8" x2="208.1" y2="444.7" stroke="#888" stroke-width="0.35" />
<rect x="144" y="365.5" width="26.80000000000001" height="39.5" fill="none" stroke="#777" stroke-width="0.7"/>
<rect x="154.8" y="374.0" width="0.6" height="0.6" fill="#aaa"/>
<rect x="158.5" y="385.6" width="0.6" height="0.6" fill="#aaa"/>
<rect x="151.9" y="390.1" width="0.6" height="0.6" fill="#aaa"/>
<rect x="162.3" y="381.0" width="0.6" height="0.6" fill="#aaa"/>
<rect x="158.9" y="409.7" width="0.6" height="0.6" fill="#aaa"/>
<rect x="165.5" y="392.3" width="0.6" height="0.6" fill="#aaa"/>
<rect x="161.0" y="392.7" width="0.6" height="0.6" fill="#aaa"/>
<rect x="159.6" y="402.1" width="0.6" height="0.6" fill="#aaa"/>
<rect x="159.3" y="367.6" width="0.6" height="0.6" fill="#aaa"/>
<rect x="159.8" y="384.2" width="0.6" height="0.6" fill="#aaa"/>
<rect x="165.2" y="387.3" width="0.6" height="0.6" fill="#aaa"/>
<rect x="161.2" y="418.0" width="0.6" height="0.6" fill="#aaa"/>
<rect x="151.6" y="381.6" width="0.6" height="0.6" fill="#aaa"/>
<rect x="148.7" y="367.7" width="0.6" height="0.6" fill="#aaa"/>
<rect x="145.0" y="398.0" width="0.6" height="0.6" fill="#aaa"/>
<rect x="154.9" y="373.5" width="0.6" height="0.6" fill="#aaa"/>
<rect x="148.1" y="400.8" width="0.6" height="0.6" fill="#aaa"/>
<rect x="153.8" y="390.0" width="0.6" height="0.6" fill="#aaa"/>
<rect x="162.6" y="408.9" width="0.6" height="0.6" fill="#aaa"/>
<rect x="175.5" y="405.4" width="0.6" height="0.6" fill="#aaa"/>
<rect x="161.1" y="396.0" width="0.6" height="0.6" fill="#aaa"/>
<rect x="174.4" y="409.7" width="0.6" height="0.6" fill="#aaa"/>
<rect x="157.5" y="399.0" width="0.6" height="0.6" fill="#aaa"/>
<rect x="162.3" y="394.6" width="0.6" height="0.6" fill="#aaa"/>
<rect x="156.0" y="379.4" width="0.6" height="0.6" fill="#aaa"/>
<rect x="155.7" y="377.0" width="0.6" height="0.6" fill="#aaa"/>
<rect x="169.8" y="399.9" width="0.6" height="0.6" fill="#aaa"/>
<rect x="150.4" y="409.4" width="0.6" height="0.6" fill="#aaa"/>
<rect x="167.1" y="373.0" width="0.6" height="0.6" fill="#aaa"/>
<rect x="174.7" y="402.9" width="0.6" height="0.6" fill="#aaa"/>
<rect x="176.5" y="380.5" width="0.6" height="0.6" fill="#aaa"/>
<rect x="164.2" y="398.7" width="0.6" height="0.6" fill="#aaa"/>
<rect x="161.6" y="395.9" width="0.6" height="0.6" fill="#aaa"/>
<rect x="168.4" y="377.6" width="0.6" height="0.6" fill="#aaa"/>
<rect x="150.1" y="378.7" width="0.6" height="0.6" fill="#aaa"/>
<rect x="155.5" y="387.3" width="0.6" height="0.6" fill="#aaa"/>
<rect x="162.9" y="396.9" width="0.6" height="0.6" fill="#aaa"/>
<rect x="160.3" y="386.6" width="0.6" height="0.6" fill="#aaa"/>
<rect x="156.5" y="404.5" width="0.6" height="0.6" fill="#aaa"/>
<rect x="166.1" y="395.1" width="0.6" height="0.6" fill="#aaa"/>
<rect x="157.4" y="411.1" width="0.6" height="0.6" fill="#aaa"/>
<rect x="155.2" y="401.1" width="0.6" height="0.6" fill="#aaa"/>
<rect x="169.2" y="391.1" width="0.6" height="0.6" fill="#aaa"/>
<rect x="166.6" y="381.7" width="0.6" height="0.6" fill="#aaa"/>
<rect x="168.1" y="396.2" width="0.6" height="0.6" fill="#aaa"/>
<rect x="147.3" y="401.4" width="0.6" height="0.6" fill="#aaa"/>
<rect x="152.9" y="408.1" width="0.6" height="0.6" fill="#aaa"/>
<rect x="154.6" y="392.2" width="0.6" height="0.6" fill="#aaa"/>
<rect x="162.3" y="390.3" width="0.6" height="0.6" fill="#aaa"/>
<rect x="162.1" y="387.9" width="0.6" height="0.6" fill="#aaa"/>
<rect x="165.4" y="394.1" width="0.6" height="0.6" fill="#aaa"/>
<rect x="161.7" y="363.7" width="0.6" height="0.6" fill="#aaa"/>
<rect x="169.3" y="394.4" width="0.6" height="0.6" fill="#aaa"/>
<rect x="145.7" y="395.1" width="0.6" height="0.6" fill="#aaa"/>
<rect x="163.7" y="405.8" width="0.6" height="0.6" fill="#aaa"/>
<rect x="151.3" y="411.0" width="0.6" height="0.6" fill="#aaa"/>
<rect x="158.7" y="420.3" width="0.6" height="0.6" fill="#aaa"/>
<rect x="158.8" y="401.5" width="0.6" height="0.6" fill="#aaa"/>
<rect x="157.1" y="381.7" width="0.6" height="0.6" fill="#aaa"/>
<rect x="168.8" y="404.0" width="0.6" height="0.6" fill="#aaa"/>
<rect x="172.3" y="403.4" width="0.6" height="0.6" fill="#aaa"/>
<rect x="155.4" y="375.7" width="0.6" height="0.6" fill="#aaa"/>
<rect x="154.8" y="386.6" width="0.6" height="0.6" fill="#aaa"/>
<rect x="153.5" y="400.4" width="0.6" height="0.6" fill="#aaa"/>
<rect x="162.6" y="391.0" width="0.6" height="0.6" fill="#aaa"/>
<rect x="161.4" y="392.4" width="0.6" height="0.6" fill="#aaa"/>
<rect x="161.7" y="402.3" width="0.6" height="0.6" fill="#aaa"/>
<rect x="167.7" y="386.5" width="0.6" height="0.6" fill="#aaa"/>
<rect x="147.9" y="409.7" width="0.6" height="0.6" fill="#aaa"/>
<rect x="160.9" y="406.2" width="0.6" height="0.6" fill="#aaa"/>
<rect x="146.9" y="390.4" width="0.6" height="0.6" fill="#aaa"/>
<rect x="160.2" y="378.1" width="0.6" height="0.6" fill="#aaa"/>
<rect x="155.9" y="402.0" width="0.6" height="0.6" fill="#aaa"/>
<rect x="168.6" y="411.5" width="0.6" height="0.6" fill="#aaa"/>
<rect x="153.1" y="378.6" width="0.6" height="0.6" fill="#aaa"/>
<rect x="164.2" y="404.3" width="0.6" height="0.6" fill="#aaa"/>
<rect x="161.5" y="379.7" width="0.6" height="0.6" fill="#aaa"/>
<rect x="166.3" y="402.7" width="0.6" height="0.6" fill="#aaa"/>
<rect x="164.4" y="388.6" width="0.6" height="0.6" fill="#aaa"/>
<rect x="162.4" y="402.7" width="0.6" height="0.6" fill="#aaa"/>
<rect x="155.5" y="373.7" width="0.6" height="0.6" fill="#aaa"/>
<rect x="162.6" y="399.3" width="0.6" height="0.6" fill="#aaa"/>
<rect x="160.1" y="403.8" width="0.6" height="0.6" fill="#aaa"/>
<rect x="155.3" y="393.1" width="0.6" height="0.6" fill="#aaa"/>
<rect x="157.6" y="400.3" width="0.6" height="0.6" fill="#aaa"/>
<rect x="172.8" y="391.2" width="0.6" height="0.6" fill="#aaa"/>
<rect x="176.4" y="410.8" width="0.6" height="0.6" fill="#aaa"/>
<rect x="166.3" y="400.5" width="0.6" height="0.6" fill="#aaa"/>
<rect x="174.2" y="392.0" width="0.6" height="0.6" fill="#aaa"/>
<rect x="159.1" y="382.3" width="0.6" height="0.6" fill="#aaa"/>
<rect x="163.8" y="408.8" width="0.6" height="0.6" fill="#aaa"/>
<rect x="164.3" y="398.7" width="0.6" height="0.6" fill="#aaa"/>
<rect x="158.4" y="395.9" width="0.6" height="0.6" fill="#aaa"/>
<rect x="148.6" y="405.5" width="0.6" height="0.6" fill="#aaa"/>
<rect x="156.7" y="381.8" width="0.6" height="0.6" fill="#aaa"/>
<rect x="154.0" y="384.9" width="0.6" height="0.6" fill="#aaa"/>
<rect x="166.8" y="405.6" width="0.6" height="0.6" fill="#aaa"/>
<rect x="149.1" y="404.2" width="0.6" height="0.6" fill="#aaa"/>
<rect x="167.1" y="387.6" width="0.6" height="0.6" fill="#aaa"/>
<rect x="148.1" y="385.8" width="0.6" height="0.6" fill="#aaa"/>
<rect x="154.9" y="397.8" width="0.6" height="0.6" fill="#aaa"/>
<rect x="157.1" y="371.7" width="0.6" height="0.6" fill="#aaa"/>
<rect x="161.9" y="377.1" width="0.6" height="0.6" fill="#aaa"/>
<rect x="167.2" y="380.7" width="0.6" height="0.6" fill="#aaa"/>
<rect x="154.5" y="384.6" width="0.6" height="0.6" fill="#aaa"/>
<rect x="155.7" y="408.3" width="0.6" height="0.6" fill="#aaa"/>
<rect x="166.8" y="400.6" width="0.6" height="0.6" fill="#aaa"/>
<rect x="162.6" y="377.0" width="0.6" height="0.6" fill="#aaa"/>
<rect x="155.8" y="387.9" width="0.6" height="0.6" fill="#aaa"/>
<rect x="152.2" y="399.6" width="0.6" height="0.6" fill="#aaa"/>
<rect x="154.1" y="386.2" width="0.6" height="0.6" fill="#aaa"/>
<rect x="151.6" y="371.4" width="0.6" height="0.6" fill="#aaa"/>
<rect x="164.8" y="408.6" width="0.6" height="0.6" fill="#aaa"/>
<rect x="161.4" y="383.3" width="0.6" height="0.6" fill="#aaa"/>
<rect x="138.4" y="395.9" width="0.6" height="0.6" fill="#aaa"/>
<rect x="169.7" y="397.3" width="0.6" height="0.6" fill="#aaa"/>
<rect x="167.4" y="410.3" width="0.6" height="0.6" fill="#aaa"/>
<rect x="169.0" y="389.1" width="0.6" height="0.6" fill="#aaa"/>
<rect x="168.4" y="402.5" width="0.6" height="0.6" fill="#aaa"/>
<rect x="147.7" y="389.5" width="0.6" height="0.6" fill="#aaa"/>
<rect x="148.6" y="392.8" width="0.6" height="0.6" fill="#aaa"/>
<rect x="164.6" y="382.3" width="0.6" height="0.6" fill="#aaa"/>
<rect x="143.6" y="408.3" width="0.6" height="0.6" fill="#aaa"/>
<rect x="163.0" y="410.2" width="0.6" height="0.6" fill="#aaa"/>
<rect x="149.4" y="405.7" width="0.6" height="0.6" fill="#aaa"/>
<rect x="176.6" y="416.1" width="0.6" height="0.6" fill="#aaa"/>
<rect x="158.3" y="397.0" width="0.6" height="0.6" fill="#aaa"/>
<rect x="158.8" y="405.0" width="0.6" height="0.6" fill="#aaa"/>
<rect x="168.3" y="395.0" width="0.6" height="0.6" fill="#aaa"/>
<rect x="149.1" y="402.2" width="0.6" height="0.6" fill="#aaa"/>
<rect x="161.0" y="411.8" width="0.6" height="0.6" fill="#b0b0b0"/>
<rect x="171.9" y="417.7" width="0.6" height="0.6" fill="#b0b0b0"/>
<rect x="185.1" y="405.3" width="0.6" height="0.6" fill="#b0b0b0"/>
<rect x="173.2" y="418.6" width="0.6" height="0.6" fill="#b0b0b0"/>
<rect x="159.9" y="410.6" width="0.6" height="0.6" fill="#b0b0b0"/>
<rect x="185.9" y="415.5" width="0.6" height="0.6" fill="#b0b0b0"/>
<rect x="175.8" y="400.1" width="0.6" height="0.6" fill="#b0b0b0"/>
<rect x="149.1" y="409.5" width="0.6" height="0.6" fill="#b0b0b0"/>
<rect x="173.8" y="423.3" width="0.6" height="0.6" fill="#b0b0b0"/>
<rect x="155.1" y="414.8" width="0.6" height="0.6" fill="#b0b0b0"/>
<rect x="179.6" y="398.0" width="0.6" height="0.6" fill="#b0b0b0"/>
<rect x="155.7" y="409.0" width="0.6" height="0.6" fill="#b0b0b0"/>
<rect x="160.6" y="407.1" width="0.6" height="0.6" fill="#b0b0b0"/>
<rect x="175.1" y="403.1" width="0.6" height="0.6" fill="#b0b0b0"/>
<rect x="175.0" y="404.2" width="0.6" height="0.6" fill="#b0b0b0"/>
<rect x="159.8" y="411.2" width="0.6" height="0.6" fill="#b0b0b0"/>
<rect x="159.4" y="409.7" width="0.6" height="0.6" fill="#b0b0b0"/>
<rect x="192.0" y="408.2" width="0.6" height="0.6" fill="#b0b0b0"/>
<rect x="165.8" y="412.4" width="0.6" height="0.6" fill="#b0b0b0"/>
<rect x="162.5" y="414.5" width="0.6" height="0.6" fill="#b0b0b0"/>
<rect x="148.8" y="411.7" width="0.6" height="0.6" fill="#b0b0b0"/>
<rect x="160.3" y="403.2" width="0.6" height="0.6" fill="#b0b0b0"/>
<rect x="194.5" y="402.9" width="0.6" height="0.6" fill="#b0b0b0"/>
<rect x="194.4" y="411.9" width="0.6" height="0.6" fill="#b0b0b0"/>
<rect x="189.8" y="402.1" width="0.6" height="0.6" fill="#b0b0b0"/>
<rect x="186.0" y="416.7" width="0.6" height="0.6" fill="#b0b0b0"/>
<rect x="166.3" y="407.2" width="0.6" height="0.6" fill="#b0b0b0"/>
<rect x="204.8" y="409.1" width="0.6" height="0.6" fill="#b0b0b0"/>
<rect x="161.7" y="404.2" width="0.6" height="0.6" fill="#b0b0b0"/>
<rect x="174.7" y="410.0" width="0.6" height="0.6" fill="#b0b0b0"/>
<rect x="170.7" y="418.3" width="0.6" height="0.6" fill="#b0b0b0"/>
<rect x="163.1" y="410.8" width="0.6" height="0.6" fill="#b0b0b0"/>
<rect x="189.9" y="402.0" width="0.6" height="0.6" fill="#b0b0b0"/>
<rect x="183.6" y="419.0" width="0.6" height="0.6" fill="#b0b0b0"/>
<rect x="147.7" y="401.4" width="0.6" height="0.6" fill="#b0b0b0"/>
<rect x="152.4" y="396.9" width="0.6" height="0.6" fill="#b0b0b0"/>
<rect x="174.8" y="396.9" width="0.6" height="0.6" fill="#b0b0b0"/>
<rect x="175.5" y="416.7" width="0.6" height="0.6" fill="#b0b0b0"/>
<rect x="143.8" y="406.1" width="0.6" height="0.6" fill="#b0b0b0"/>
<rect x="139.2" y="412.7" width="0.6" height="0.6" fill="#b0b0b0"/>
<rect x="156.9" y="406.4" width="0.6" height="0.6" fill="#b0b0b0"/>
<rect x="168.8" y="411.3" width="0.6" height="0.6" fill="#b0b0b0"/>
<rect x="162.8" y="408.1" width="0.6" height="0.6" fill="#b0b0b0"/>
<rect x="159.8" y="408.7" width="0.6" height="0.6" fill="#b0b0b0"/>
<rect x="150.4" y="408.4" width="0.6" height="0.6" fill="#b0b0b0"/>
<rect x="139.0" y="405.1" width="0.6" height="0.6" fill="#b0b0b0"/>
<rect x="196.7" y="408.5" width="0.6" height="0.6" fill="#b0b0b0"/>
<rect x="149.1" y="409.5" width="0.6" height="0.6" fill="#b0b0b0"/>
<rect x="153.4" y="398.1" width="0.6" height="0.6" fill="#b0b0b0"/>
<rect x="157.0" y="412.4" width="0.6" height="0.6" fill="#b0b0b0"/>
<rect x="173.8" y="407.4" width="0.6" height="0.6" fill="#b0b0b0"/>
<rect x="154.1" y="401.5" width="0.6" height="0.6" fill="#b0b0b0"/>
<rect x="188.2" y="409.5" width="0.6" height="0.6" fill="#b0b0b0"/>
<rect x="153.7" y="395.3" width="0.6" height="0.6" fill="#b0b0b0"/>
<rect x="147.5" y="422.9" width="0.6" height="0.6" fill="#b0b0b0"/>
<rect x="150.8" y="407.5" width="0.6" height="0.6" fill="#b0b0b0"/>
<rect x="171.2" y="407.1" width="0.6" height="0.6" fill="#b0b0b0"/>
<rect x="163.8" y="399.8" width="0.6" height="0.6" fill="#b0b0b0"/>
<rect x="152.2" y="418.1" width="0.6" height="0.6" fill="#b0b0b0"/>
<rect x="156.7" y="413.1" width="0.6" height="0.6" fill="#b0b0b0"/>
<rect x="142.6" y="406.4" width="0.6" height="0.6" fill="#b0b0b0"/>
<rect x="171.9" y="414.2" width="0.6" height="0.6" fill="#b0b0b0"/>
<rect x="151.2" y="411.6" width="0.6" height="0.6" fill="#b0b0b0"/>
<rect x="173.8" y="403.6" width="0.6" height="0.6" fill="#b0b0b0"/>
<rect x="175.2" y="402.6" width="0.6" height="0.6" fill="#b0b0b0"/>
<rect x="156.1" y="407.9" width="0.6" height="0.6" fill="#b0b0b0"/>
<rect x="153.0" y="399.2" width="0.6" height="0.6" fill="#b0b0b0"/>
<rect x="161.6" y="412.6" width="0.6" height="0.6" fill="#b0b0b0"/>
<rect x="161.9" y="415.6" width="0.6" height="0.6" fill="#b0b0b0"/>
<rect x="150.6" y="400.1" width="0.6" height="0.6" fill="#b0b0b0"/>
<rect x="191.3" y="410.4" width="0.6" height="0.6" fill="#b0b0b0"/>
<rect x="182.2" y="403.0" width="0.6" height="0.6" fill="#b0b0b0"/>
<rect x="180.1" y="409.6" width="0.6" height="0.6" fill="#b0b0b0"/>
<rect x="177.7" y="408.2" width="0.6" height="0.6" fill="#b0b0b0"/>
<rect x="186.1" y="404.1" width="0.6" height="0.6" fill="#b0b0b0"/>
<rect x="153.5" y="399.1" width="0.6" height="0.6" fill="#b0b0b0"/>
<rect x="185.4" y="403.6" width="0.6" height="0.6" fill="#b0b0b0"/>
<rect x="152.4" y="402.4" width="0.6" height="0.6" fill="#b0b0b0"/>
<rect x="161.3" y="400.4" width="0.6" height="0.6" fill="#b0b0b0"/>
<rect x="163.6" y="404.2" width="0.6" height="0.6" fill="#b0b0b0"/>
<rect x="159.7" y="402.2" width="0.6" height="0.6" fill="#b0b0b0"/>
<rect x="168.6" y="405.2" width="0.6" height="0.6" fill="#b0b0b0"/>
<rect x="169.7" y="409.5" width="0.6" height="0.6" fill="#b0b0b0"/>
<rect x="173.1" y="394.9" width="0.6" height="0.6" fill="#b0b0b0"/>
<rect x="160.0" y="403.2" width="0.6" height="0.6" fill="#b0b0b0"/>
<rect x="179.6" y="398.5" width="0.6" height="0.6" fill="#b0b0b0"/>
<rect x="157.3" y="406.2" width="0.6" height="0.6" fill="#b0b0b0"/>
<rect x="163.0" y="413.9" width="0.6" height="0.6" fill="#b0b0b0"/>
<rect x="161.4" y="413.8" width="0.6" height="0.6" fill="#b0b0b0"/>
<rect x="146.0" y="397.1" width="0.6" height="0.6" fill="#b0b0b0"/>
<rect x="186.3" y="410.6" width="0.6" height="0.6" fill="#b0b0b0"/>
<rect x="175.3" y="408.7" width="0.6" height="0.6" fill="#b0b0b0"/>
<rect x="175.3" y="400.7" width="0.6" height="0.6" fill="#b0b0b0"/>
<rect x="182.2" y="404.8" width="0.6" height="0.6" fill="#b0b0b0"/>
<rect x="182.8" y="408.5" width="0.6" height="0.6" fill="#b0b0b0"/>
<rect x="138.4" y="400.3" width="0.6" height="0.6" fill="#b0b0b0"/>
<rect x="184.9" y="407.2" width="0.6" height="0.6" fill="#b0b0b0"/>
<rect x="162.1" y="409.5" width="0.6" height="0.6" fill="#b0b0b0"/>
<rect x="161.6" y="404.7" width="0.6" height="0.6" fill="#b0b0b0"/>
<rect x="169.5" y="408.9" width="0.6" height="0.6" fill="#b0b0b0"/>
<rect x="190.8" y="408.3" width="0.6" height="0.6" fill="#b0b0b0"/>
<rect x="196.2" y="418.8" width="0.6" height="0.6" fill="#b0b0b0"/>
<rect x="193.7" y="414.4" width="0.6" height="0.6" fill="#b0b0b0"/>
<rect x="170.0" y="408.8" width="0.6" height="0.6" fill="#b0b0b0"/>
<rect x="165.9" y="403.6" width="0.6" height="0.6" fill="#b0b0b0"/>
<rect x="167.0" y="404.2" width="0.6" height="0.6" fill="#b0b0b0"/>
<rect x="192.6" y="411.2" width="0.6" height="0.6" fill="#b0b0b0"/>
<rect x="161.3" y="396.5" width="0.6" height="0.6" fill="#b0b0b0"/>
<rect x="167.2" y="405.5" width="0.6" height="0.6" fill="#b0b0b0"/>
<path d="M144.6,376 C144.4,367.6 165.6,367.6 166,376.4 C166,382 156,382.6 151.6,384.6 C149.6,390 150.6,400 149.6,406 C155,407 166,407.6 168.6,414 C168,422 156,421 152.6,426 C151.4,432 149.6,436 148,439 C146,436 143.4,431 142,425 C136,423 131.6,419 132.4,412 C135,406 144,407 146.6,404 C146.4,396 145.6,386 144.6,376Z" fill="none" stroke="#777777" stroke-width="0.6"/>
<ellipse cx="155" cy="375" rx="9.4" ry="5.6" transform="rotate(-4 155 375)" fill="none" stroke="#808080" stroke-width="0.6" opacity="1"/>
<ellipse cx="155" cy="375" rx="7.05" ry="4.2" transform="rotate(-4 155 375)" fill="none" stroke="#757575" stroke-width="0.6" opacity="1"/>
<ellipse cx="155" cy="375" rx="4.7" ry="2.8" transform="rotate(-4 155 375)" fill="none" stroke="#6a6a6a" stroke-width="0.6" opacity="1"/>
<ellipse cx="155" cy="375" rx="2.35" ry="1.4" transform="rotate(-4 155 375)" fill="none" stroke="#606060" stroke-width="0.6" opacity="1"/>
<line x1="147.20" y1="381" x2="147.80" y2="408" stroke="#666666" stroke-width="0.55" />
<line x1="148.40" y1="381" x2="149.00" y2="408" stroke="#555555" stroke-width="0.55" />
<line x1="149.60" y1="381" x2="150.20" y2="408" stroke="#777777" stroke-width="0.55" />
<ellipse cx="137" cy="413.2" rx="5.0" ry="3.0" transform="rotate(-35 137 413.2)" fill="none" stroke="#707070" stroke-width="0.6" opacity="1"/>
<ellipse cx="137" cy="413.2" rx="3.75" ry="2.25" transform="rotate(-35 137 413.2)" fill="none" stroke="#616161" stroke-width="0.6" opacity="1"/>
<ellipse cx="137" cy="413.2" rx="2.5" ry="1.5" transform="rotate(-35 137 413.2)" fill="none" stroke="#525252" stroke-width="0.6" opacity="1"/>
<ellipse cx="137" cy="413.2" rx="1.25" ry="0.75" transform="rotate(-35 137 413.2)" fill="none" stroke="#444444" stroke-width="0.6" opacity="1"/>
<ellipse cx="160.2" cy="417" rx="4.4" ry="3.8" transform="rotate(0 160.2 417)" fill="none" stroke="#707070" stroke-width="0.6" opacity="1"/>
<ellipse cx="160.2" cy="417" rx="3.3" ry="2.85" transform="rotate(0 160.2 417)" fill="none" stroke="#656565" stroke-width="0.6" opacity="1"/>
<ellipse cx="160.2" cy="417" rx="2.2" ry="1.9" transform="rotate(0 160.2 417)" fill="none" stroke="#5a5a5a" stroke-width="0.6" opacity="1"/>
<ellipse cx="160.2" cy="417" rx="1.1" ry="0.95" transform="rotate(0 160.2 417)" fill="none" stroke="#505050" stroke-width="0.6" opacity="1"/>
<path d="M146.6,406 C145,410 143.4,412 143,416" fill="none" stroke="#666666" stroke-width="0.55"/>
<path d="M149.6,406 C151,410 151.6,412 152,416" fill="none" stroke="#666666" stroke-width="0.55"/>
<path d="M148,407 L147.6,414" fill="none" stroke="#555555" stroke-width="0.55"/>
<ellipse cx="147.4" cy="422.4" rx="5" ry="8" transform="rotate(4 147.4 422.4)" fill="#888888" stroke="none" stroke-width="0" opacity="0.8"/>
<ellipse cx="147.4" cy="422.6" rx="5.4" ry="9.0" transform="rotate(4 147.4 422.6)" fill="none" stroke="#666666" stroke-width="0.65" opacity="1"/>
<ellipse cx="147.4" cy="422.6" rx="4.79" ry="7.99" transform="rotate(4 147.4 422.6)" fill="none" stroke="#595959" stroke-width="0.65" opacity="1"/>
<ellipse cx="147.4" cy="422.6" rx="4.19" ry="6.98" transform="rotate(4 147.4 422.6)" fill="none" stroke="#4c4c4c" stroke-width="0.65" opacity="1"/>
<ellipse cx="147.4" cy="422.6" rx="3.58" ry="5.96" transform="rotate(4 147.4 422.6)" fill="none" stroke="#3f3f3f" stroke-width="0.65" opacity="1"/>
<ellipse cx="147.4" cy="422.6" rx="2.97" ry="4.95" transform="rotate(4 147.4 422.6)" fill="none" stroke="#333333" stroke-width="0.65" opacity="1"/>
<ellipse cx="147.4" cy="421.8" rx="3.4" ry="5.6" transform="rotate(4 147.4 421.8)" fill="#0c0c0c" stroke="none" stroke-width="0" opacity="0.95"/>
<ellipse cx="147.3" cy="421.6" rx="0.8" ry="1.1" transform="rotate(0 147.3 421.6)" fill="#dddddd" stroke="none" stroke-width="0" opacity="1"/>
<text x="151" y="388.3" font-size="7.3" font-weight="normal" text-anchor="start" fill="#000" stroke="#000" stroke-width="0.15">13.4</text>
<text x="176.6" y="376.7" font-size="9.5" font-weight="bold" text-anchor="start" fill="#000"  stroke="#000" stroke-width="0.22">3-7</text>
<text x="176.6" y="388.2" font-size="9.5" font-weight="bold" text-anchor="start" fill="#000"  stroke="#000" stroke-width="0.22">day 29</text>
<text stroke="#555" stroke-width="0.22" transform="translate(7.4,385.3) rotate(-90)" font-size="5.3" font-weight="bold" text-anchor="middle" fill="#555">BrdU</text>
<line x1="5" y1="404.4" x2="5" y2="444" stroke="#000" stroke-width="1.5" />
<polygon points="5,397.8 2.2,404.4 7.8,404.4" fill="#fff" stroke="#000" stroke-width="0.8"/>
<text x="7" y="464.2" font-size="7.6" font-weight="normal" text-anchor="start" fill="#222"  stroke="#222" stroke-width="0.12">GFP+</text>
<line x1="27.2" y1="468.8" x2="181" y2="468.8" stroke="#000" stroke-width="1.3" />
<polygon points="187.2,468.8 181,466.2 181,471.4" fill="#fff" stroke="#000" stroke-width="0.8"/>
<text x="189.8" y="471.1" font-size="6.1" font-weight="normal" text-anchor="start" fill="#333" >7-AAD</text>
<path d="M265.0,419.0 C265.2,417.2 266.0,412.2 266.5,408.0 C267.0,403.8 267.4,398.5 268.0,394.0 C268.6,389.5 269.3,385.3 270.0,381.0 C270.7,376.7 271.3,372.5 272.0,368.0 C272.7,363.5 273.3,358.5 274.0,354.0 C274.7,349.5 275.4,344.5 276.0,341.0 C276.6,337.5 277.0,335.0 277.4,333.0 C277.8,331.0 278.1,329.4 278.4,329.0 C278.7,328.6 278.9,330.8 279.2,330.5 C279.5,330.2 279.7,327.2 280.0,327.0 C280.3,326.8 280.7,328.5 281.0,329.5 C281.3,330.5 281.6,330.9 282.0,333.0 C282.4,335.1 283.0,337.8 283.5,342.0 C284.0,346.2 284.5,352.3 285.0,358.0 C285.5,363.7 286.0,370.3 286.5,376.0 C287.0,381.7 287.5,386.7 288.0,392.0 C288.5,397.3 289.0,403.3 289.5,408.0 C290.0,412.7 290.5,416.7 291.0,420.0 C291.5,423.3 291.9,426.0 292.5,428.0 C293.1,430.0 293.8,431.1 294.5,432.0 C295.2,432.9 296.6,433.0 297.0,433.2 L265,433.2 Z" fill="#8c8c8c"/>
<path d="M265.2,431.5 C265.4,430.6 266.1,427.8 266.6,426.0 C267.1,424.2 267.6,422.5 268.2,420.5 C268.8,418.5 269.5,416.2 270.2,414.0 C270.9,411.8 271.5,409.8 272.2,407.3 C272.9,404.8 273.5,402.1 274.2,399.0 C274.9,395.9 275.6,391.8 276.1,389.0 C276.7,386.2 277.1,384.2 277.5,382.0 C277.9,379.8 278.3,378.4 278.7,375.7 C279.1,373.0 279.6,369.5 280.0,366.0 C280.4,362.5 280.9,358.1 281.4,354.6 C281.8,351.1 282.3,348.1 282.7,345.0 C283.1,341.9 283.6,338.6 284.0,336.0 C284.4,333.4 284.9,331.0 285.3,329.5 C285.7,328.0 286.1,326.8 286.5,326.8 C286.9,326.8 287.3,327.1 287.6,329.5 C287.9,331.9 288.2,337.3 288.5,341.4 C288.8,345.5 289.1,349.6 289.5,354.0 C289.9,358.4 290.2,363.3 290.6,367.8 C291.0,372.3 291.6,376.6 292.0,381.0 C292.4,385.4 292.9,389.7 293.3,394.2 C293.7,398.7 294.2,403.6 294.6,408.0 C295.0,412.4 295.5,417.3 295.9,420.5 C296.3,423.7 296.8,425.4 297.2,427.0 C297.6,428.6 298.1,429.4 298.6,430.2 C299.2,431.0 299.8,431.6 300.5,432.0 C301.2,432.4 302.6,432.7 303.0,432.8" fill="none" stroke="#000" stroke-width="1.25" stroke-linejoin="round"/>
<path d="M265.2,432.0 C266.3,431.9 269.7,431.8 272.0,431.6 C274.3,431.4 276.8,431.3 279.0,431.0 C281.2,430.7 283.2,430.4 285.0,430.0 C286.8,429.6 288.6,429.1 290.0,428.4 C291.4,427.7 292.6,426.8 293.5,426.0 C294.4,425.2 295.0,424.4 295.6,423.5 C296.2,422.6 296.7,422.0 297.2,420.5 C297.7,419.0 298.2,416.7 298.6,414.5 C299.1,412.3 299.5,410.2 299.9,407.3 C300.3,404.4 300.8,400.5 301.2,397.0 C301.6,393.5 302.1,390.2 302.5,386.2 C302.9,382.2 303.4,377.4 303.8,373.0 C304.2,368.6 304.7,363.9 305.1,359.9 C305.5,355.9 305.9,352.5 306.4,349.0 C306.8,345.5 307.4,341.7 307.8,338.7 C308.2,335.7 308.6,333.0 309.0,331.0 C309.4,329.0 309.9,326.8 310.4,326.8 C310.8,326.8 311.3,328.6 311.7,331.0 C312.1,333.4 312.6,337.6 313.0,341.4 C313.4,345.2 313.9,349.6 314.3,354.0 C314.8,358.4 315.2,362.6 315.7,367.8 C316.1,373.0 316.6,379.3 317.0,385.0 C317.4,390.7 317.9,397.0 318.3,402.0 C318.7,407.0 319.2,411.0 319.6,415.0 C320.1,419.0 320.6,423.3 321.0,425.8 C321.4,428.3 321.8,428.9 322.3,430.0 C322.8,431.1 323.3,431.9 323.8,432.4 C324.3,432.9 325.2,432.9 325.5,433.0" fill="none" stroke="#000" stroke-width="1.1" stroke-dasharray="2.6,1.7"/>
<path d="M264.7,322.3 L378.6,322.3 L378.6,433.2" fill="none" stroke="#555" stroke-width="0.9"/>
<path d="M264.7,322.3 L264.7,433.2" fill="none" stroke="#333" stroke-width="1"/>
<path d="M264.2,433.2 L379.0,433.2" fill="none" stroke="#000" stroke-width="1.3"/>
<line x1="262.7" y1="433.2" x2="264.7" y2="433.2" stroke="#333" stroke-width="0.7" />
<text x="260.4" y="435.8" font-size="6.9" font-weight="normal" text-anchor="end" fill="#111" stroke="#111" stroke-width="0.2">0</text>
<line x1="262.7" y1="411.59999999999997" x2="264.7" y2="411.59999999999997" stroke="#333" stroke-width="0.7" />
<text x="260.4" y="414.2" font-size="6.9" font-weight="normal" text-anchor="end" fill="#111" stroke="#111" stroke-width="0.2">20</text>
<line x1="262.7" y1="390.0" x2="264.7" y2="390.0" stroke="#333" stroke-width="0.7" />
<text x="260.4" y="392.6" font-size="6.9" font-weight="normal" text-anchor="end" fill="#111" stroke="#111" stroke-width="0.2">40</text>
<line x1="262.7" y1="368.4" x2="264.7" y2="368.4" stroke="#333" stroke-width="0.7" />
<text x="260.4" y="371.0" font-size="6.9" font-weight="normal" text-anchor="end" fill="#111" stroke="#111" stroke-width="0.2">60</text>
<line x1="262.7" y1="346.79999999999995" x2="264.7" y2="346.79999999999995" stroke="#333" stroke-width="0.7" />
<text x="260.4" y="349.4" font-size="6.9" font-weight="normal" text-anchor="end" fill="#111" stroke="#111" stroke-width="0.2">80</text>
<line x1="262.7" y1="325.2" x2="264.7" y2="325.2" stroke="#333" stroke-width="0.7" />
<text x="260.4" y="327.8" font-size="6.9" font-weight="normal" text-anchor="end" fill="#111" stroke="#111" stroke-width="0.2">100</text>
<text x="261.1" y="444.6" font-size="6.9" fill="#111" stroke="#111" stroke-width="0.2">10<tspan dy="-2.8" font-size="4.7">0</tspan></text>
<line x1="273.8" y1="433.2" x2="273.8" y2="434.4" stroke="#555" stroke-width="0.4" />
<line x1="278.8" y1="433.2" x2="278.8" y2="434.4" stroke="#555" stroke-width="0.4" />
<line x1="282.3" y1="433.2" x2="282.3" y2="434.4" stroke="#555" stroke-width="0.4" />
<line x1="285.0" y1="433.2" x2="285.0" y2="434.4" stroke="#555" stroke-width="0.4" />
<line x1="287.2" y1="433.2" x2="287.2" y2="434.4" stroke="#555" stroke-width="0.4" />
<line x1="289.1" y1="433.2" x2="289.1" y2="434.4" stroke="#555" stroke-width="0.4" />
<line x1="290.8" y1="433.2" x2="290.8" y2="434.4" stroke="#555" stroke-width="0.4" />
<line x1="292.2" y1="433.2" x2="292.2" y2="434.4" stroke="#555" stroke-width="0.4" />
<line x1="265.3" y1="433.2" x2="265.3" y2="435.4" stroke="#333" stroke-width="0.6" />
<text x="289.3" y="444.6" font-size="6.9" fill="#111" stroke="#111" stroke-width="0.2">10<tspan dy="-2.8" font-size="4.7">1</tspan></text>
<line x1="302.0" y1="433.2" x2="302.0" y2="434.4" stroke="#555" stroke-width="0.4" />
<line x1="307.0" y1="433.2" x2="307.0" y2="434.4" stroke="#555" stroke-width="0.4" />
<line x1="310.5" y1="433.2" x2="310.5" y2="434.4" stroke="#555" stroke-width="0.4" />
<line x1="313.2" y1="433.2" x2="313.2" y2="434.4" stroke="#555" stroke-width="0.4" />
<line x1="315.4" y1="433.2" x2="315.4" y2="434.4" stroke="#555" stroke-width="0.4" />
<line x1="317.3" y1="433.2" x2="317.3" y2="434.4" stroke="#555" stroke-width="0.4" />
<line x1="319.0" y1="433.2" x2="319.0" y2="434.4" stroke="#555" stroke-width="0.4" />
<line x1="320.4" y1="433.2" x2="320.4" y2="434.4" stroke="#555" stroke-width="0.4" />
<line x1="293.5" y1="433.2" x2="293.5" y2="435.4" stroke="#333" stroke-width="0.6" />
<text x="317.5" y="444.6" font-size="6.9" fill="#111" stroke="#111" stroke-width="0.2">10<tspan dy="-2.8" font-size="4.7">2</tspan></text>
<line x1="330.2" y1="433.2" x2="330.2" y2="434.4" stroke="#555" stroke-width="0.4" />
<line x1="335.2" y1="433.2" x2="335.2" y2="434.4" stroke="#555" stroke-width="0.4" />
<line x1="338.7" y1="433.2" x2="338.7" y2="434.4" stroke="#555" stroke-width="0.4" />
<line x1="341.4" y1="433.2" x2="341.4" y2="434.4" stroke="#555" stroke-width="0.4" />
<line x1="343.6" y1="433.2" x2="343.6" y2="434.4" stroke="#555" stroke-width="0.4" />
<line x1="345.5" y1="433.2" x2="345.5" y2="434.4" stroke="#555" stroke-width="0.4" />
<line x1="347.2" y1="433.2" x2="347.2" y2="434.4" stroke="#555" stroke-width="0.4" />
<line x1="348.6" y1="433.2" x2="348.6" y2="434.4" stroke="#555" stroke-width="0.4" />
<line x1="321.7" y1="433.2" x2="321.7" y2="435.4" stroke="#333" stroke-width="0.6" />
<text x="345.7" y="444.6" font-size="6.9" fill="#111" stroke="#111" stroke-width="0.2">10<tspan dy="-2.8" font-size="4.7">3</tspan></text>
<line x1="358.4" y1="433.2" x2="358.4" y2="434.4" stroke="#555" stroke-width="0.4" />
<line x1="363.4" y1="433.2" x2="363.4" y2="434.4" stroke="#555" stroke-width="0.4" />
<line x1="366.9" y1="433.2" x2="366.9" y2="434.4" stroke="#555" stroke-width="0.4" />
<line x1="369.6" y1="433.2" x2="369.6" y2="434.4" stroke="#555" stroke-width="0.4" />
<line x1="371.8" y1="433.2" x2="371.8" y2="434.4" stroke="#555" stroke-width="0.4" />
<line x1="373.7" y1="433.2" x2="373.7" y2="434.4" stroke="#555" stroke-width="0.4" />
<line x1="375.4" y1="433.2" x2="375.4" y2="434.4" stroke="#555" stroke-width="0.4" />
<line x1="376.8" y1="433.2" x2="376.8" y2="434.4" stroke="#555" stroke-width="0.4" />
<line x1="349.9" y1="433.2" x2="349.9" y2="435.4" stroke="#333" stroke-width="0.6" />
<text x="373.9" y="444.6" font-size="6.9" fill="#111" stroke="#111" stroke-width="0.2">10<tspan dy="-2.8" font-size="4.7">4</tspan></text>
<line x1="378.1" y1="433.2" x2="378.1" y2="435.4" stroke="#333" stroke-width="0.6" />
<text stroke="#000" stroke-width="0.22" transform="translate(248.4,375) rotate(-90)" font-size="8" font-weight="bold" text-anchor="middle" fill="#000">Events</text>
<line x1="246.8" y1="427.5" x2="246.8" y2="399.5" stroke="#000" stroke-width="1.25" />
<polygon points="246.8,394.4 244,400.4 249.6,400.4" fill="#000"/>
<line x1="270.6" y1="454.6" x2="301" y2="454.6" stroke="#000" stroke-width="1.2" />
<polygon points="306.4,454.6 300.6,451.8 300.6,457.4" fill="#000"/>
<text x="313.6" y="457.8" font-size="8.6" font-weight="bold" text-anchor="start" fill="#000"  stroke="#000" stroke-width="0.22">PTEN</text>
<rect x="280" y="282" width="12.6" height="6" fill="#8a8a8a"/>
<text x="297" y="289.2" font-size="9.35" font-weight="normal" text-anchor="start" fill="#111"  stroke="#111" stroke-width="0.12">2nd Ab only</text>
<line x1="280" y1="297.3" x2="292.8" y2="297.3" stroke="#000" stroke-width="1.7" stroke-dasharray="2.6,2.4"/>
<text x="297" y="300.5" font-size="9.35" font-weight="normal" text-anchor="start" fill="#111"  stroke="#111" stroke-width="0.12">3-7 day 0</text>
<line x1="280" y1="309.2" x2="292.8" y2="309.2" stroke="#000" stroke-width="1.7" />
<text x="297" y="312.4" font-size="9.35" font-weight="normal" text-anchor="start" fill="#111"  stroke="#111" stroke-width="0.12">3-7 day 29</text>
</svg></body></html>
